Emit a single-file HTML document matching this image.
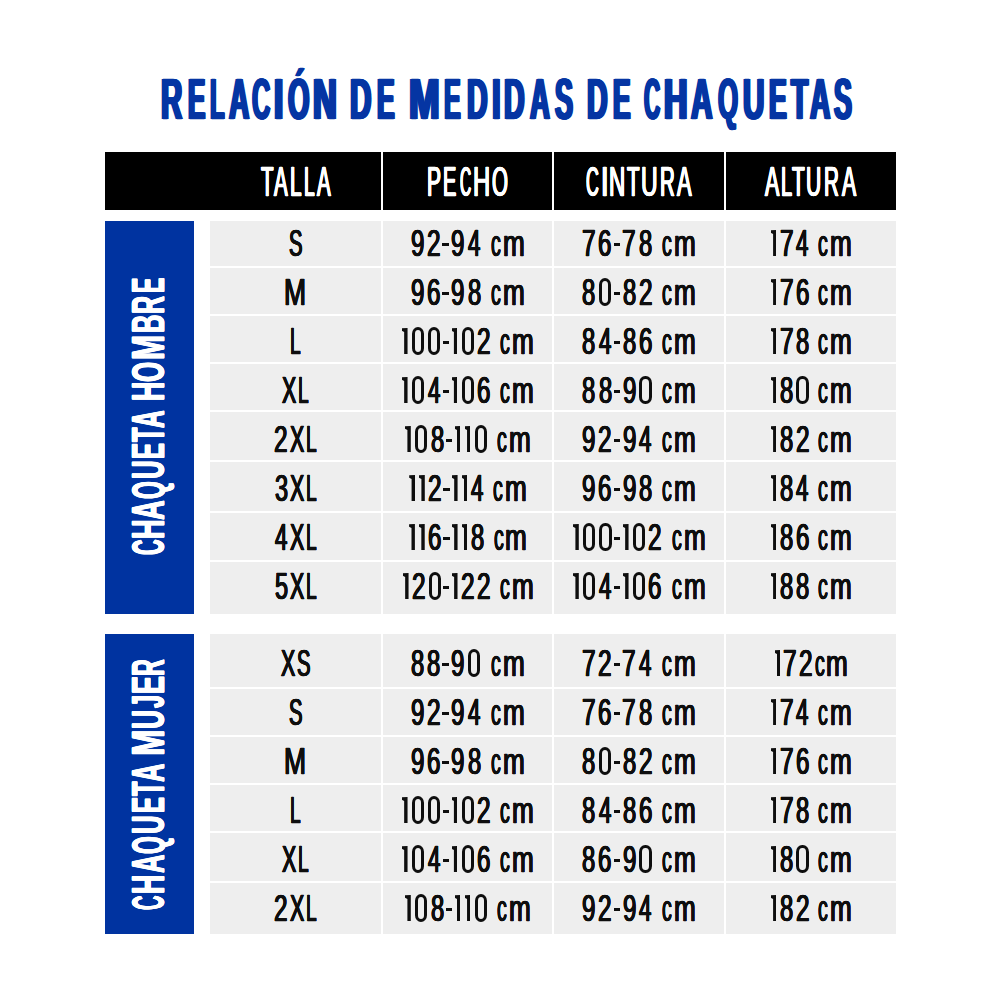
<!DOCTYPE html>
<html><head><meta charset="utf-8"><style>
html,body{margin:0;padding:0;background:#fff;width:1000px;height:1000px;overflow:hidden}
body{position:relative;font-family:"Liberation Sans",sans-serif}
.r{position:absolute}
.t,.g{position:absolute;line-height:1;white-space:nowrap;transform-origin:0 0}
</style></head><body>
<div class="g" style="left:161.44px;top:71.00px;font-size:57.5px;font-weight:700;color:#0535a3;transform:scaleX(0.5119);text-shadow:-2.50px 0 0 #0535a3,2.50px 0 0 #0535a3,-1.25px 0 0 #0535a3,1.25px 0 0 #0535a3;-webkit-text-stroke:0.5px #0535a3">R</div>
<div class="g" style="left:187.51px;top:71.00px;font-size:57.5px;font-weight:700;color:#0535a3;transform:scaleX(0.4502);text-shadow:-2.50px 0 0 #0535a3,2.50px 0 0 #0535a3,-1.25px 0 0 #0535a3,1.25px 0 0 #0535a3;-webkit-text-stroke:0.5px #0535a3">E</div>
<div class="g" style="left:209.55px;top:71.00px;font-size:57.5px;font-weight:700;color:#0535a3;transform:scaleX(0.4142);text-shadow:-2.50px 0 0 #0535a3,2.50px 0 0 #0535a3,-1.25px 0 0 #0535a3,1.25px 0 0 #0535a3;-webkit-text-stroke:0.5px #0535a3">L</div>
<div class="g" style="left:228.64px;top:71.00px;font-size:57.5px;font-weight:700;color:#0535a3;transform:scaleX(0.4878);text-shadow:-2.50px 0 0 #0535a3,2.50px 0 0 #0535a3,-1.25px 0 0 #0535a3,1.25px 0 0 #0535a3;-webkit-text-stroke:0.5px #0535a3">A</div>
<div class="g" style="left:251.67px;top:71.00px;font-size:57.5px;font-weight:700;color:#0535a3;transform:scaleX(0.4409);text-shadow:-2.50px 0 0 #0535a3,2.50px 0 0 #0535a3,-1.25px 0 0 #0535a3,1.25px 0 0 #0535a3;-webkit-text-stroke:0.5px #0535a3">C</div>
<div class="g" style="left:273.86px;top:71.00px;font-size:57.5px;font-weight:700;color:#0535a3;transform:scaleX(0.5804);text-shadow:-2.50px 0 0 #0535a3,2.50px 0 0 #0535a3,-1.25px 0 0 #0535a3,1.25px 0 0 #0535a3;-webkit-text-stroke:0.5px #0535a3">I</div>
<div class="g" style="left:287.69px;top:71.00px;font-size:57.5px;font-weight:700;color:#0535a3;transform:scaleX(0.4796);text-shadow:-2.50px 0 0 #0535a3,2.50px 0 0 #0535a3,-1.25px 0 0 #0535a3,1.25px 0 0 #0535a3;-webkit-text-stroke:0.5px #0535a3">Ó</div>
<div class="g" style="left:313.47px;top:71.00px;font-size:57.5px;font-weight:700;color:#0535a3;transform:scaleX(0.5725);text-shadow:-2.50px 0 0 #0535a3,2.50px 0 0 #0535a3,-1.25px 0 0 #0535a3,1.25px 0 0 #0535a3;-webkit-text-stroke:0.5px #0535a3">N</div>
<div class="g" style="left:350.44px;top:71.00px;font-size:57.5px;font-weight:700;color:#0535a3;transform:scaleX(0.5152);text-shadow:-2.50px 0 0 #0535a3,2.50px 0 0 #0535a3,-1.25px 0 0 #0535a3,1.25px 0 0 #0535a3;-webkit-text-stroke:0.5px #0535a3">D</div>
<div class="g" style="left:376.70px;top:71.00px;font-size:57.5px;font-weight:700;color:#0535a3;transform:scaleX(0.4582);text-shadow:-2.50px 0 0 #0535a3,2.50px 0 0 #0535a3,-1.25px 0 0 #0535a3,1.25px 0 0 #0535a3;-webkit-text-stroke:0.5px #0535a3">E</div>
<div class="g" style="left:408.80px;top:71.00px;font-size:57.5px;font-weight:700;color:#0535a3;transform:scaleX(0.6389);text-shadow:-2.50px 0 0 #0535a3,2.50px 0 0 #0535a3,-1.25px 0 0 #0535a3,1.25px 0 0 #0535a3;-webkit-text-stroke:0.5px #0535a3">M</div>
<div class="g" style="left:444.22px;top:71.00px;font-size:57.5px;font-weight:700;color:#0535a3;transform:scaleX(0.4370);text-shadow:-2.50px 0 0 #0535a3,2.50px 0 0 #0535a3,-1.25px 0 0 #0535a3,1.25px 0 0 #0535a3;-webkit-text-stroke:0.5px #0535a3">E</div>
<div class="g" style="left:466.66px;top:71.00px;font-size:57.5px;font-weight:700;color:#0535a3;transform:scaleX(0.4955);text-shadow:-2.50px 0 0 #0535a3,2.50px 0 0 #0535a3,-1.25px 0 0 #0535a3,1.25px 0 0 #0535a3;-webkit-text-stroke:0.5px #0535a3">D</div>
<div class="g" style="left:491.60px;top:71.00px;font-size:57.5px;font-weight:700;color:#0535a3;transform:scaleX(0.5442);text-shadow:-2.50px 0 0 #0535a3,2.50px 0 0 #0535a3,-1.25px 0 0 #0535a3,1.25px 0 0 #0535a3;-webkit-text-stroke:0.5px #0535a3">I</div>
<div class="g" style="left:504.46px;top:71.00px;font-size:57.5px;font-weight:700;color:#0535a3;transform:scaleX(0.4955);text-shadow:-2.50px 0 0 #0535a3,2.50px 0 0 #0535a3,-1.25px 0 0 #0535a3,1.25px 0 0 #0535a3;-webkit-text-stroke:0.5px #0535a3">D</div>
<div class="g" style="left:529.63px;top:71.00px;font-size:57.5px;font-weight:700;color:#0535a3;transform:scaleX(0.4764);text-shadow:-2.50px 0 0 #0535a3,2.50px 0 0 #0535a3,-1.25px 0 0 #0535a3,1.25px 0 0 #0535a3;-webkit-text-stroke:0.5px #0535a3">A</div>
<div class="g" style="left:555.01px;top:71.00px;font-size:57.5px;font-weight:700;color:#0535a3;transform:scaleX(0.4681);text-shadow:-2.50px 0 0 #0535a3,2.50px 0 0 #0535a3,-1.25px 0 0 #0535a3,1.25px 0 0 #0535a3;-webkit-text-stroke:0.5px #0535a3">S</div>
<div class="g" style="left:586.96px;top:71.00px;font-size:57.5px;font-weight:700;color:#0535a3;transform:scaleX(0.4955);text-shadow:-2.50px 0 0 #0535a3,2.50px 0 0 #0535a3,-1.25px 0 0 #0535a3,1.25px 0 0 #0535a3;-webkit-text-stroke:0.5px #0535a3">D</div>
<div class="g" style="left:612.50px;top:71.00px;font-size:57.5px;font-weight:700;color:#0535a3;transform:scaleX(0.4555);text-shadow:-2.50px 0 0 #0535a3,2.50px 0 0 #0535a3,-1.25px 0 0 #0535a3,1.25px 0 0 #0535a3;-webkit-text-stroke:0.5px #0535a3">E</div>
<div class="g" style="left:644.15px;top:71.00px;font-size:57.5px;font-weight:700;color:#0535a3;transform:scaleX(0.3898);text-shadow:-2.50px 0 0 #0535a3,2.50px 0 0 #0535a3,-1.25px 0 0 #0535a3,1.25px 0 0 #0535a3;-webkit-text-stroke:0.5px #0535a3">C</div>
<div class="g" style="left:664.38px;top:71.00px;font-size:57.5px;font-weight:700;color:#0535a3;transform:scaleX(0.5648);text-shadow:-2.50px 0 0 #0535a3,2.50px 0 0 #0535a3,-1.25px 0 0 #0535a3,1.25px 0 0 #0535a3;-webkit-text-stroke:0.5px #0535a3">H</div>
<div class="g" style="left:690.88px;top:71.00px;font-size:57.5px;font-weight:700;color:#0535a3;transform:scaleX(0.5173);text-shadow:-2.50px 0 0 #0535a3,2.50px 0 0 #0535a3,-1.25px 0 0 #0535a3,1.25px 0 0 #0535a3;-webkit-text-stroke:0.5px #0535a3">A</div>
<div class="g" style="left:717.98px;top:71.00px;font-size:57.5px;font-weight:700;color:#0535a3;transform:scaleX(0.4488);text-shadow:-2.50px 0 0 #0535a3,2.50px 0 0 #0535a3,-1.25px 0 0 #0535a3,1.25px 0 0 #0535a3;-webkit-text-stroke:0.5px #0535a3">Q</div>
<div class="g" style="left:743.24px;top:71.00px;font-size:57.5px;font-weight:700;color:#0535a3;transform:scaleX(0.5142);text-shadow:-2.50px 0 0 #0535a3,2.50px 0 0 #0535a3,-1.25px 0 0 #0535a3,1.25px 0 0 #0535a3;-webkit-text-stroke:0.5px #0535a3">U</div>
<div class="g" style="left:769.09px;top:71.00px;font-size:57.5px;font-weight:700;color:#0535a3;transform:scaleX(0.4608);text-shadow:-2.50px 0 0 #0535a3,2.50px 0 0 #0535a3,-1.25px 0 0 #0535a3,1.25px 0 0 #0535a3;-webkit-text-stroke:0.5px #0535a3">E</div>
<div class="g" style="left:791.03px;top:71.00px;font-size:57.5px;font-weight:700;color:#0535a3;transform:scaleX(0.4878);text-shadow:-2.50px 0 0 #0535a3,2.50px 0 0 #0535a3,-1.25px 0 0 #0535a3,1.25px 0 0 #0535a3;-webkit-text-stroke:0.5px #0535a3">T</div>
<div class="g" style="left:810.45px;top:71.00px;font-size:57.5px;font-weight:700;color:#0535a3;transform:scaleX(0.4901);text-shadow:-2.50px 0 0 #0535a3,2.50px 0 0 #0535a3,-1.25px 0 0 #0535a3,1.25px 0 0 #0535a3;-webkit-text-stroke:0.5px #0535a3">A</div>
<div class="g" style="left:834.31px;top:71.00px;font-size:57.5px;font-weight:700;color:#0535a3;transform:scaleX(0.4656);text-shadow:-2.50px 0 0 #0535a3,2.50px 0 0 #0535a3,-1.25px 0 0 #0535a3,1.25px 0 0 #0535a3;-webkit-text-stroke:0.5px #0535a3">S</div>
<div class="r" style="left:105.00px;top:152.00px;width:276.00px;height:57.50px;background:#000"></div>
<div class="r" style="left:383.00px;top:152.00px;width:169.00px;height:57.50px;background:#000"></div>
<div class="r" style="left:554.00px;top:152.00px;width:169.50px;height:57.50px;background:#000"></div>
<div class="r" style="left:725.50px;top:152.00px;width:170.50px;height:57.50px;background:#000"></div>
<div class="g" style="left:261.15px;top:161.00px;font-size:42.3px;font-weight:400;color:#fff;transform:scaleX(0.4845);text-shadow:-1.10px 0 0 #fff,1.10px 0 0 #fff,-0.55px 0 0 #fff,0.55px 0 0 #fff;-webkit-text-stroke:0.3px #fff">T</div>
<div class="g" style="left:274.37px;top:161.00px;font-size:42.3px;font-weight:400;color:#fff;transform:scaleX(0.4845);text-shadow:-1.10px 0 0 #fff,1.10px 0 0 #fff,-0.55px 0 0 #fff,0.55px 0 0 #fff;-webkit-text-stroke:0.3px #fff">A</div>
<div class="g" style="left:289.91px;top:161.00px;font-size:42.3px;font-weight:400;color:#fff;transform:scaleX(0.4917);text-shadow:-1.10px 0 0 #fff,1.10px 0 0 #fff,-0.55px 0 0 #fff,0.55px 0 0 #fff;-webkit-text-stroke:0.3px #fff">L</div>
<div class="g" style="left:303.59px;top:161.00px;font-size:42.3px;font-weight:400;color:#fff;transform:scaleX(0.4539);text-shadow:-1.10px 0 0 #fff,1.10px 0 0 #fff,-0.55px 0 0 #fff,0.55px 0 0 #fff;-webkit-text-stroke:0.3px #fff">L</div>
<div class="g" style="left:316.77px;top:161.00px;font-size:42.3px;font-weight:400;color:#fff;transform:scaleX(0.4845);text-shadow:-1.10px 0 0 #fff,1.10px 0 0 #fff,-0.55px 0 0 #fff,0.55px 0 0 #fff;-webkit-text-stroke:0.3px #fff">A</div>
<div class="g" style="left:426.60px;top:161.00px;font-size:42.3px;font-weight:400;color:#fff;transform:scaleX(0.4957);text-shadow:-1.10px 0 0 #fff,1.10px 0 0 #fff,-0.55px 0 0 #fff,0.55px 0 0 #fff;-webkit-text-stroke:0.3px #fff">P</div>
<div class="g" style="left:443.15px;top:161.00px;font-size:42.3px;font-weight:400;color:#fff;transform:scaleX(0.4720);text-shadow:-1.10px 0 0 #fff,1.10px 0 0 #fff,-0.55px 0 0 #fff,0.55px 0 0 #fff;-webkit-text-stroke:0.3px #fff">E</div>
<div class="g" style="left:459.97px;top:161.00px;font-size:42.3px;font-weight:400;color:#fff;transform:scaleX(0.3653);text-shadow:-1.10px 0 0 #fff,1.10px 0 0 #fff,-0.55px 0 0 #fff,0.55px 0 0 #fff;-webkit-text-stroke:0.3px #fff">C</div>
<div class="g" style="left:473.05px;top:161.00px;font-size:42.3px;font-weight:400;color:#fff;transform:scaleX(0.5626);text-shadow:-1.10px 0 0 #fff,1.10px 0 0 #fff,-0.55px 0 0 #fff,0.55px 0 0 #fff;-webkit-text-stroke:0.3px #fff">H</div>
<div class="g" style="left:492.03px;top:161.00px;font-size:42.3px;font-weight:400;color:#fff;transform:scaleX(0.4845);text-shadow:-1.10px 0 0 #fff,1.10px 0 0 #fff,-0.55px 0 0 #fff,0.55px 0 0 #fff;-webkit-text-stroke:0.3px #fff">O</div>
<div class="g" style="left:586.32px;top:161.00px;font-size:42.3px;font-weight:400;color:#fff;transform:scaleX(0.4200);text-shadow:-1.10px 0 0 #fff,1.10px 0 0 #fff,-0.55px 0 0 #fff,0.55px 0 0 #fff;-webkit-text-stroke:0.3px #fff">C</div>
<div class="g" style="left:600.51px;top:161.00px;font-size:42.3px;font-weight:400;color:#fff;transform:scaleX(0.6362);text-shadow:-1.10px 0 0 #fff,1.10px 0 0 #fff,-0.55px 0 0 #fff,0.55px 0 0 #fff;-webkit-text-stroke:0.3px #fff">I</div>
<div class="g" style="left:608.82px;top:161.00px;font-size:42.3px;font-weight:400;color:#fff;transform:scaleX(0.5320);text-shadow:-1.10px 0 0 #fff,1.10px 0 0 #fff,-0.55px 0 0 #fff,0.55px 0 0 #fff;-webkit-text-stroke:0.3px #fff">N</div>
<div class="g" style="left:627.15px;top:161.00px;font-size:42.3px;font-weight:400;color:#fff;transform:scaleX(0.4845);text-shadow:-1.10px 0 0 #fff,1.10px 0 0 #fff,-0.55px 0 0 #fff,0.55px 0 0 #fff;-webkit-text-stroke:0.3px #fff">T</div>
<div class="g" style="left:641.31px;top:161.00px;font-size:42.3px;font-weight:400;color:#fff;transform:scaleX(0.5430);text-shadow:-1.10px 0 0 #fff,1.10px 0 0 #fff,-0.55px 0 0 #fff,0.55px 0 0 #fff;-webkit-text-stroke:0.3px #fff">U</div>
<div class="g" style="left:659.72px;top:161.00px;font-size:42.3px;font-weight:400;color:#fff;transform:scaleX(0.4852);text-shadow:-1.10px 0 0 #fff,1.10px 0 0 #fff,-0.55px 0 0 #fff,0.55px 0 0 #fff;-webkit-text-stroke:0.3px #fff">R</div>
<div class="g" style="left:676.80px;top:161.00px;font-size:42.3px;font-weight:400;color:#fff;transform:scaleX(0.5172);text-shadow:-1.10px 0 0 #fff,1.10px 0 0 #fff,-0.55px 0 0 #fff,0.55px 0 0 #fff;-webkit-text-stroke:0.3px #fff">A</div>
<div class="g" style="left:764.59px;top:161.00px;font-size:42.3px;font-weight:400;color:#fff;transform:scaleX(0.5074);text-shadow:-1.10px 0 0 #fff,1.10px 0 0 #fff,-0.55px 0 0 #fff,0.55px 0 0 #fff;-webkit-text-stroke:0.3px #fff">A</div>
<div class="g" style="left:781.45px;top:161.00px;font-size:42.3px;font-weight:400;color:#fff;transform:scaleX(0.4728);text-shadow:-1.10px 0 0 #fff,1.10px 0 0 #fff,-0.55px 0 0 #fff,0.55px 0 0 #fff;-webkit-text-stroke:0.3px #fff">L</div>
<div class="g" style="left:791.65px;top:161.00px;font-size:42.3px;font-weight:400;color:#fff;transform:scaleX(0.4921);text-shadow:-1.10px 0 0 #fff,1.10px 0 0 #fff,-0.55px 0 0 #fff,0.55px 0 0 #fff;-webkit-text-stroke:0.3px #fff">T</div>
<div class="g" style="left:806.30px;top:161.00px;font-size:42.3px;font-weight:400;color:#fff;transform:scaleX(0.4977);text-shadow:-1.10px 0 0 #fff,1.10px 0 0 #fff,-0.55px 0 0 #fff,0.55px 0 0 #fff;-webkit-text-stroke:0.3px #fff">U</div>
<div class="g" style="left:823.91px;top:161.00px;font-size:42.3px;font-weight:400;color:#fff;transform:scaleX(0.4889);text-shadow:-1.10px 0 0 #fff,1.10px 0 0 #fff,-0.55px 0 0 #fff,0.55px 0 0 #fff;-webkit-text-stroke:0.3px #fff">R</div>
<div class="g" style="left:841.58px;top:161.00px;font-size:42.3px;font-weight:400;color:#fff;transform:scaleX(0.5008);text-shadow:-1.10px 0 0 #fff,1.10px 0 0 #fff,-0.55px 0 0 #fff,0.55px 0 0 #fff;-webkit-text-stroke:0.3px #fff">A</div>
<div class="r" style="left:105.00px;top:221.00px;width:89.00px;height:392.60px;background:#0033a0"></div>
<div class="r" style="left:105.00px;top:634.00px;width:89.00px;height:300.40px;background:#0033a0"></div>
<div class="r" style="left:210.00px;top:221.00px;width:171.00px;height:45.00px;background:#eeeeee"></div>
<div class="r" style="left:383.00px;top:221.00px;width:169.00px;height:45.00px;background:#eeeeee"></div>
<div class="r" style="left:554.00px;top:221.00px;width:169.50px;height:45.00px;background:#eeeeee"></div>
<div class="r" style="left:725.50px;top:221.00px;width:170.50px;height:45.00px;background:#eeeeee"></div>
<div class="r" style="left:210.00px;top:268.00px;width:171.00px;height:46.00px;background:#eeeeee"></div>
<div class="r" style="left:383.00px;top:268.00px;width:169.00px;height:46.00px;background:#eeeeee"></div>
<div class="r" style="left:554.00px;top:268.00px;width:169.50px;height:46.00px;background:#eeeeee"></div>
<div class="r" style="left:725.50px;top:268.00px;width:170.50px;height:46.00px;background:#eeeeee"></div>
<div class="r" style="left:210.00px;top:316.00px;width:171.00px;height:46.00px;background:#eeeeee"></div>
<div class="r" style="left:383.00px;top:316.00px;width:169.00px;height:46.00px;background:#eeeeee"></div>
<div class="r" style="left:554.00px;top:316.00px;width:169.50px;height:46.00px;background:#eeeeee"></div>
<div class="r" style="left:725.50px;top:316.00px;width:170.50px;height:46.00px;background:#eeeeee"></div>
<div class="r" style="left:210.00px;top:364.00px;width:171.00px;height:46.00px;background:#eeeeee"></div>
<div class="r" style="left:383.00px;top:364.00px;width:169.00px;height:46.00px;background:#eeeeee"></div>
<div class="r" style="left:554.00px;top:364.00px;width:169.50px;height:46.00px;background:#eeeeee"></div>
<div class="r" style="left:725.50px;top:364.00px;width:170.50px;height:46.00px;background:#eeeeee"></div>
<div class="r" style="left:210.00px;top:412.00px;width:171.00px;height:48.00px;background:#eeeeee"></div>
<div class="r" style="left:383.00px;top:412.00px;width:169.00px;height:48.00px;background:#eeeeee"></div>
<div class="r" style="left:554.00px;top:412.00px;width:169.50px;height:48.00px;background:#eeeeee"></div>
<div class="r" style="left:725.50px;top:412.00px;width:170.50px;height:48.00px;background:#eeeeee"></div>
<div class="r" style="left:210.00px;top:462.00px;width:171.00px;height:49.00px;background:#eeeeee"></div>
<div class="r" style="left:383.00px;top:462.00px;width:169.00px;height:49.00px;background:#eeeeee"></div>
<div class="r" style="left:554.00px;top:462.00px;width:169.50px;height:49.00px;background:#eeeeee"></div>
<div class="r" style="left:725.50px;top:462.00px;width:170.50px;height:49.00px;background:#eeeeee"></div>
<div class="r" style="left:210.00px;top:513.00px;width:171.00px;height:47.00px;background:#eeeeee"></div>
<div class="r" style="left:383.00px;top:513.00px;width:169.00px;height:47.00px;background:#eeeeee"></div>
<div class="r" style="left:554.00px;top:513.00px;width:169.50px;height:47.00px;background:#eeeeee"></div>
<div class="r" style="left:725.50px;top:513.00px;width:170.50px;height:47.00px;background:#eeeeee"></div>
<div class="r" style="left:210.00px;top:562.00px;width:171.00px;height:51.60px;background:#eeeeee"></div>
<div class="r" style="left:383.00px;top:562.00px;width:169.00px;height:51.60px;background:#eeeeee"></div>
<div class="r" style="left:554.00px;top:562.00px;width:169.50px;height:51.60px;background:#eeeeee"></div>
<div class="r" style="left:725.50px;top:562.00px;width:170.50px;height:51.60px;background:#eeeeee"></div>
<div class="r" style="left:210.00px;top:634.00px;width:171.00px;height:53.00px;background:#eeeeee"></div>
<div class="r" style="left:383.00px;top:634.00px;width:169.00px;height:53.00px;background:#eeeeee"></div>
<div class="r" style="left:554.00px;top:634.00px;width:169.50px;height:53.00px;background:#eeeeee"></div>
<div class="r" style="left:725.50px;top:634.00px;width:170.50px;height:53.00px;background:#eeeeee"></div>
<div class="r" style="left:210.00px;top:689.00px;width:171.00px;height:46.00px;background:#eeeeee"></div>
<div class="r" style="left:383.00px;top:689.00px;width:169.00px;height:46.00px;background:#eeeeee"></div>
<div class="r" style="left:554.00px;top:689.00px;width:169.50px;height:46.00px;background:#eeeeee"></div>
<div class="r" style="left:725.50px;top:689.00px;width:170.50px;height:46.00px;background:#eeeeee"></div>
<div class="r" style="left:210.00px;top:737.00px;width:171.00px;height:46.00px;background:#eeeeee"></div>
<div class="r" style="left:383.00px;top:737.00px;width:169.00px;height:46.00px;background:#eeeeee"></div>
<div class="r" style="left:554.00px;top:737.00px;width:169.50px;height:46.00px;background:#eeeeee"></div>
<div class="r" style="left:725.50px;top:737.00px;width:170.50px;height:46.00px;background:#eeeeee"></div>
<div class="r" style="left:210.00px;top:785.00px;width:171.00px;height:46.00px;background:#eeeeee"></div>
<div class="r" style="left:383.00px;top:785.00px;width:169.00px;height:46.00px;background:#eeeeee"></div>
<div class="r" style="left:554.00px;top:785.00px;width:169.50px;height:46.00px;background:#eeeeee"></div>
<div class="r" style="left:725.50px;top:785.00px;width:170.50px;height:46.00px;background:#eeeeee"></div>
<div class="r" style="left:210.00px;top:833.00px;width:171.00px;height:48.00px;background:#eeeeee"></div>
<div class="r" style="left:383.00px;top:833.00px;width:169.00px;height:48.00px;background:#eeeeee"></div>
<div class="r" style="left:554.00px;top:833.00px;width:169.50px;height:48.00px;background:#eeeeee"></div>
<div class="r" style="left:725.50px;top:833.00px;width:170.50px;height:48.00px;background:#eeeeee"></div>
<div class="r" style="left:210.00px;top:883.00px;width:171.00px;height:51.40px;background:#eeeeee"></div>
<div class="r" style="left:383.00px;top:883.00px;width:169.00px;height:51.40px;background:#eeeeee"></div>
<div class="r" style="left:554.00px;top:883.00px;width:169.50px;height:51.40px;background:#eeeeee"></div>
<div class="r" style="left:725.50px;top:883.00px;width:170.50px;height:51.40px;background:#eeeeee"></div>
<div class="g" style="left:288.77px;top:225.00px;font-size:37.7px;color:#0e0e0e;transform:scaleX(0.5358);text-shadow:-0.70px 0 0 #0e0e0e,0.70px 0 0 #0e0e0e,-0.35px 0 0 #0e0e0e,0.35px 0 0 #0e0e0e;-webkit-text-stroke:0.6px #0e0e0e">S</div>
<div class="g" style="left:411.03px;top:225.00px;font-size:37.7px;color:#0e0e0e;transform:scaleX(0.6387);text-shadow:-0.70px 0 0 #0e0e0e,0.70px 0 0 #0e0e0e,-0.35px 0 0 #0e0e0e,0.35px 0 0 #0e0e0e;-webkit-text-stroke:0.6px #0e0e0e">9</div>
<div class="g" style="left:427.18px;top:225.00px;font-size:37.7px;color:#0e0e0e;transform:scaleX(0.6467);text-shadow:-0.70px 0 0 #0e0e0e,0.70px 0 0 #0e0e0e,-0.35px 0 0 #0e0e0e,0.35px 0 0 #0e0e0e;-webkit-text-stroke:0.6px #0e0e0e">2</div>
<div class="r" style="left:442.39px;top:242.65px;width:6.40px;height:3.10px;background:#0e0e0e"></div>
<div class="g" style="left:451.33px;top:225.00px;font-size:37.7px;color:#0e0e0e;transform:scaleX(0.6387);text-shadow:-0.70px 0 0 #0e0e0e,0.70px 0 0 #0e0e0e,-0.35px 0 0 #0e0e0e,0.35px 0 0 #0e0e0e;-webkit-text-stroke:0.6px #0e0e0e">9</div>
<div class="g" style="left:468.15px;top:225.00px;font-size:37.7px;color:#0e0e0e;transform:scaleX(0.5906);text-shadow:-0.70px 0 0 #0e0e0e,0.70px 0 0 #0e0e0e,-0.35px 0 0 #0e0e0e,0.35px 0 0 #0e0e0e;-webkit-text-stroke:0.6px #0e0e0e">4</div>
<div class="g" style="left:490.61px;top:225.00px;font-size:37.7px;color:#0e0e0e;transform:scaleX(0.5204);text-shadow:-0.70px 0 0 #0e0e0e,0.70px 0 0 #0e0e0e,-0.35px 0 0 #0e0e0e,0.35px 0 0 #0e0e0e;-webkit-text-stroke:0.6px #0e0e0e">c</div>
<div class="g" style="left:502.73px;top:225.00px;font-size:37.7px;color:#0e0e0e;transform:scaleX(0.6933);text-shadow:-0.70px 0 0 #0e0e0e,0.70px 0 0 #0e0e0e,-0.35px 0 0 #0e0e0e,0.35px 0 0 #0e0e0e;-webkit-text-stroke:0.6px #0e0e0e">m</div>
<div class="g" style="left:582.16px;top:225.00px;font-size:37.7px;color:#0e0e0e;transform:scaleX(0.6479);text-shadow:-0.70px 0 0 #0e0e0e,0.70px 0 0 #0e0e0e,-0.35px 0 0 #0e0e0e,0.35px 0 0 #0e0e0e;-webkit-text-stroke:0.6px #0e0e0e">7</div>
<div class="g" style="left:598.43px;top:225.00px;font-size:37.7px;color:#0e0e0e;transform:scaleX(0.6393);text-shadow:-0.70px 0 0 #0e0e0e,0.70px 0 0 #0e0e0e,-0.35px 0 0 #0e0e0e,0.35px 0 0 #0e0e0e;-webkit-text-stroke:0.6px #0e0e0e">6</div>
<div class="r" style="left:613.64px;top:242.65px;width:6.40px;height:3.10px;background:#0e0e0e"></div>
<div class="g" style="left:622.47px;top:225.00px;font-size:37.7px;color:#0e0e0e;transform:scaleX(0.6479);text-shadow:-0.70px 0 0 #0e0e0e,0.70px 0 0 #0e0e0e,-0.35px 0 0 #0e0e0e,0.35px 0 0 #0e0e0e;-webkit-text-stroke:0.6px #0e0e0e">7</div>
<div class="g" style="left:638.92px;top:225.00px;font-size:37.7px;color:#0e0e0e;transform:scaleX(0.6298);text-shadow:-0.70px 0 0 #0e0e0e,0.70px 0 0 #0e0e0e,-0.35px 0 0 #0e0e0e,0.35px 0 0 #0e0e0e;-webkit-text-stroke:0.6px #0e0e0e">8</div>
<div class="g" style="left:661.86px;top:225.00px;font-size:37.7px;color:#0e0e0e;transform:scaleX(0.5204);text-shadow:-0.70px 0 0 #0e0e0e,0.70px 0 0 #0e0e0e,-0.35px 0 0 #0e0e0e,0.35px 0 0 #0e0e0e;-webkit-text-stroke:0.6px #0e0e0e">c</div>
<div class="g" style="left:673.98px;top:225.00px;font-size:37.7px;color:#0e0e0e;transform:scaleX(0.6933);text-shadow:-0.70px 0 0 #0e0e0e,0.70px 0 0 #0e0e0e,-0.35px 0 0 #0e0e0e,0.35px 0 0 #0e0e0e;-webkit-text-stroke:0.6px #0e0e0e">m</div>
<div class="r" style="left:770.70px;top:230.00px;width:5.80px;height:26.00px;background:#0e0e0e;clip-path:polygon(0px 0.3px,5.80px 0px,5.80px 26.00px,2.40px 26.00px,2.40px 4.05px,0px 2.85px)"></div>
<div class="g" style="left:779.85px;top:225.00px;font-size:37.7px;color:#0e0e0e;transform:scaleX(0.6479);text-shadow:-0.70px 0 0 #0e0e0e,0.70px 0 0 #0e0e0e,-0.35px 0 0 #0e0e0e,0.35px 0 0 #0e0e0e;-webkit-text-stroke:0.6px #0e0e0e">7</div>
<div class="g" style="left:796.43px;top:225.00px;font-size:37.7px;color:#0e0e0e;transform:scaleX(0.5906);text-shadow:-0.70px 0 0 #0e0e0e,0.70px 0 0 #0e0e0e,-0.35px 0 0 #0e0e0e,0.35px 0 0 #0e0e0e;-webkit-text-stroke:0.6px #0e0e0e">4</div>
<div class="g" style="left:818.45px;top:225.00px;font-size:37.7px;color:#0e0e0e;transform:scaleX(0.5204);text-shadow:-0.70px 0 0 #0e0e0e,0.70px 0 0 #0e0e0e,-0.35px 0 0 #0e0e0e,0.35px 0 0 #0e0e0e;-webkit-text-stroke:0.6px #0e0e0e">c</div>
<div class="g" style="left:830.19px;top:225.00px;font-size:37.7px;color:#0e0e0e;transform:scaleX(0.6933);text-shadow:-0.70px 0 0 #0e0e0e,0.70px 0 0 #0e0e0e,-0.35px 0 0 #0e0e0e,0.35px 0 0 #0e0e0e;-webkit-text-stroke:0.6px #0e0e0e">m</div>
<div class="g" style="left:284.48px;top:274.00px;font-size:37.7px;color:#0e0e0e;transform:scaleX(0.7017);text-shadow:-0.70px 0 0 #0e0e0e,0.70px 0 0 #0e0e0e,-0.35px 0 0 #0e0e0e,0.35px 0 0 #0e0e0e;-webkit-text-stroke:0.6px #0e0e0e">M</div>
<div class="g" style="left:411.03px;top:274.00px;font-size:37.7px;color:#0e0e0e;transform:scaleX(0.6387);text-shadow:-0.70px 0 0 #0e0e0e,0.70px 0 0 #0e0e0e,-0.35px 0 0 #0e0e0e,0.35px 0 0 #0e0e0e;-webkit-text-stroke:0.6px #0e0e0e">9</div>
<div class="g" style="left:427.18px;top:274.00px;font-size:37.7px;color:#0e0e0e;transform:scaleX(0.6393);text-shadow:-0.70px 0 0 #0e0e0e,0.70px 0 0 #0e0e0e,-0.35px 0 0 #0e0e0e,0.35px 0 0 #0e0e0e;-webkit-text-stroke:0.6px #0e0e0e">6</div>
<div class="r" style="left:442.39px;top:291.65px;width:6.40px;height:3.10px;background:#0e0e0e"></div>
<div class="g" style="left:451.33px;top:274.00px;font-size:37.7px;color:#0e0e0e;transform:scaleX(0.6387);text-shadow:-0.70px 0 0 #0e0e0e,0.70px 0 0 #0e0e0e,-0.35px 0 0 #0e0e0e,0.35px 0 0 #0e0e0e;-webkit-text-stroke:0.6px #0e0e0e">9</div>
<div class="g" style="left:467.67px;top:274.00px;font-size:37.7px;color:#0e0e0e;transform:scaleX(0.6298);text-shadow:-0.70px 0 0 #0e0e0e,0.70px 0 0 #0e0e0e,-0.35px 0 0 #0e0e0e,0.35px 0 0 #0e0e0e;-webkit-text-stroke:0.6px #0e0e0e">8</div>
<div class="g" style="left:490.61px;top:274.00px;font-size:37.7px;color:#0e0e0e;transform:scaleX(0.5204);text-shadow:-0.70px 0 0 #0e0e0e,0.70px 0 0 #0e0e0e,-0.35px 0 0 #0e0e0e,0.35px 0 0 #0e0e0e;-webkit-text-stroke:0.6px #0e0e0e">c</div>
<div class="g" style="left:502.73px;top:274.00px;font-size:37.7px;color:#0e0e0e;transform:scaleX(0.6933);text-shadow:-0.70px 0 0 #0e0e0e,0.70px 0 0 #0e0e0e,-0.35px 0 0 #0e0e0e,0.35px 0 0 #0e0e0e;-webkit-text-stroke:0.6px #0e0e0e">m</div>
<div class="g" style="left:582.36px;top:274.00px;font-size:37.7px;color:#0e0e0e;transform:scaleX(0.6298);text-shadow:-0.70px 0 0 #0e0e0e,0.70px 0 0 #0e0e0e,-0.35px 0 0 #0e0e0e,0.35px 0 0 #0e0e0e;-webkit-text-stroke:0.6px #0e0e0e">8</div>
<div class="r" style="left:599.01px;top:278.40px;width:12.40px;height:27.20px;box-sizing:border-box;border:3.3px solid #0e0e0e;border-radius:6.20px / 7.0px"></div>
<div class="r" style="left:613.64px;top:291.65px;width:6.40px;height:3.10px;background:#0e0e0e"></div>
<div class="g" style="left:622.67px;top:274.00px;font-size:37.7px;color:#0e0e0e;transform:scaleX(0.6298);text-shadow:-0.70px 0 0 #0e0e0e,0.70px 0 0 #0e0e0e,-0.35px 0 0 #0e0e0e,0.35px 0 0 #0e0e0e;-webkit-text-stroke:0.6px #0e0e0e">8</div>
<div class="g" style="left:638.74px;top:274.00px;font-size:37.7px;color:#0e0e0e;transform:scaleX(0.6467);text-shadow:-0.70px 0 0 #0e0e0e,0.70px 0 0 #0e0e0e,-0.35px 0 0 #0e0e0e,0.35px 0 0 #0e0e0e;-webkit-text-stroke:0.6px #0e0e0e">2</div>
<div class="g" style="left:661.86px;top:274.00px;font-size:37.7px;color:#0e0e0e;transform:scaleX(0.5204);text-shadow:-0.70px 0 0 #0e0e0e,0.70px 0 0 #0e0e0e,-0.35px 0 0 #0e0e0e,0.35px 0 0 #0e0e0e;-webkit-text-stroke:0.6px #0e0e0e">c</div>
<div class="g" style="left:673.98px;top:274.00px;font-size:37.7px;color:#0e0e0e;transform:scaleX(0.6933);text-shadow:-0.70px 0 0 #0e0e0e,0.70px 0 0 #0e0e0e,-0.35px 0 0 #0e0e0e,0.35px 0 0 #0e0e0e;-webkit-text-stroke:0.6px #0e0e0e">m</div>
<div class="r" style="left:770.70px;top:279.00px;width:5.80px;height:26.00px;background:#0e0e0e;clip-path:polygon(0px 0.3px,5.80px 0px,5.80px 26.00px,2.40px 26.00px,2.40px 4.05px,0px 2.85px)"></div>
<div class="g" style="left:779.85px;top:274.00px;font-size:37.7px;color:#0e0e0e;transform:scaleX(0.6479);text-shadow:-0.70px 0 0 #0e0e0e,0.70px 0 0 #0e0e0e,-0.35px 0 0 #0e0e0e,0.35px 0 0 #0e0e0e;-webkit-text-stroke:0.6px #0e0e0e">7</div>
<div class="g" style="left:795.77px;top:274.00px;font-size:37.7px;color:#0e0e0e;transform:scaleX(0.6393);text-shadow:-0.70px 0 0 #0e0e0e,0.70px 0 0 #0e0e0e,-0.35px 0 0 #0e0e0e,0.35px 0 0 #0e0e0e;-webkit-text-stroke:0.6px #0e0e0e">6</div>
<div class="g" style="left:818.45px;top:274.00px;font-size:37.7px;color:#0e0e0e;transform:scaleX(0.5204);text-shadow:-0.70px 0 0 #0e0e0e,0.70px 0 0 #0e0e0e,-0.35px 0 0 #0e0e0e,0.35px 0 0 #0e0e0e;-webkit-text-stroke:0.6px #0e0e0e">c</div>
<div class="g" style="left:830.19px;top:274.00px;font-size:37.7px;color:#0e0e0e;transform:scaleX(0.6933);text-shadow:-0.70px 0 0 #0e0e0e,0.70px 0 0 #0e0e0e,-0.35px 0 0 #0e0e0e,0.35px 0 0 #0e0e0e;-webkit-text-stroke:0.6px #0e0e0e">m</div>
<div class="g" style="left:289.68px;top:323.00px;font-size:37.7px;color:#0e0e0e;transform:scaleX(0.5101);text-shadow:-0.70px 0 0 #0e0e0e,0.70px 0 0 #0e0e0e,-0.35px 0 0 #0e0e0e,0.35px 0 0 #0e0e0e;-webkit-text-stroke:0.6px #0e0e0e">L</div>
<div class="r" style="left:401.76px;top:328.00px;width:5.80px;height:26.00px;background:#0e0e0e;clip-path:polygon(0px 0.3px,5.80px 0px,5.80px 26.00px,2.40px 26.00px,2.40px 4.05px,0px 2.85px)"></div>
<div class="r" style="left:411.80px;top:327.40px;width:12.40px;height:27.20px;box-sizing:border-box;border:3.3px solid #0e0e0e;border-radius:6.20px / 7.0px"></div>
<div class="r" style="left:428.05px;top:327.40px;width:12.40px;height:27.20px;box-sizing:border-box;border:3.3px solid #0e0e0e;border-radius:6.20px / 7.0px"></div>
<div class="r" style="left:442.68px;top:340.65px;width:6.40px;height:3.10px;background:#0e0e0e"></div>
<div class="r" style="left:451.51px;top:328.00px;width:5.80px;height:26.00px;background:#0e0e0e;clip-path:polygon(0px 0.3px,5.80px 0px,5.80px 26.00px,2.40px 26.00px,2.40px 4.05px,0px 2.85px)"></div>
<div class="r" style="left:461.55px;top:327.40px;width:12.40px;height:27.20px;box-sizing:border-box;border:3.3px solid #0e0e0e;border-radius:6.20px / 7.0px"></div>
<div class="g" style="left:477.22px;top:323.00px;font-size:37.7px;color:#0e0e0e;transform:scaleX(0.6467);text-shadow:-0.70px 0 0 #0e0e0e,0.70px 0 0 #0e0e0e,-0.35px 0 0 #0e0e0e,0.35px 0 0 #0e0e0e;-webkit-text-stroke:0.6px #0e0e0e">2</div>
<div class="g" style="left:500.35px;top:323.00px;font-size:37.7px;color:#0e0e0e;transform:scaleX(0.5204);text-shadow:-0.70px 0 0 #0e0e0e,0.70px 0 0 #0e0e0e,-0.35px 0 0 #0e0e0e,0.35px 0 0 #0e0e0e;-webkit-text-stroke:0.6px #0e0e0e">c</div>
<div class="g" style="left:512.48px;top:323.00px;font-size:37.7px;color:#0e0e0e;transform:scaleX(0.6933);text-shadow:-0.70px 0 0 #0e0e0e,0.70px 0 0 #0e0e0e,-0.35px 0 0 #0e0e0e,0.35px 0 0 #0e0e0e;-webkit-text-stroke:0.6px #0e0e0e">m</div>
<div class="g" style="left:582.36px;top:323.00px;font-size:37.7px;color:#0e0e0e;transform:scaleX(0.6298);text-shadow:-0.70px 0 0 #0e0e0e,0.70px 0 0 #0e0e0e,-0.35px 0 0 #0e0e0e,0.35px 0 0 #0e0e0e;-webkit-text-stroke:0.6px #0e0e0e">8</div>
<div class="g" style="left:599.09px;top:323.00px;font-size:37.7px;color:#0e0e0e;transform:scaleX(0.5906);text-shadow:-0.70px 0 0 #0e0e0e,0.70px 0 0 #0e0e0e,-0.35px 0 0 #0e0e0e,0.35px 0 0 #0e0e0e;-webkit-text-stroke:0.6px #0e0e0e">4</div>
<div class="r" style="left:613.64px;top:340.65px;width:6.40px;height:3.10px;background:#0e0e0e"></div>
<div class="g" style="left:622.67px;top:323.00px;font-size:37.7px;color:#0e0e0e;transform:scaleX(0.6298);text-shadow:-0.70px 0 0 #0e0e0e,0.70px 0 0 #0e0e0e,-0.35px 0 0 #0e0e0e,0.35px 0 0 #0e0e0e;-webkit-text-stroke:0.6px #0e0e0e">8</div>
<div class="g" style="left:638.73px;top:323.00px;font-size:37.7px;color:#0e0e0e;transform:scaleX(0.6393);text-shadow:-0.70px 0 0 #0e0e0e,0.70px 0 0 #0e0e0e,-0.35px 0 0 #0e0e0e,0.35px 0 0 #0e0e0e;-webkit-text-stroke:0.6px #0e0e0e">6</div>
<div class="g" style="left:661.86px;top:323.00px;font-size:37.7px;color:#0e0e0e;transform:scaleX(0.5204);text-shadow:-0.70px 0 0 #0e0e0e,0.70px 0 0 #0e0e0e,-0.35px 0 0 #0e0e0e,0.35px 0 0 #0e0e0e;-webkit-text-stroke:0.6px #0e0e0e">c</div>
<div class="g" style="left:673.98px;top:323.00px;font-size:37.7px;color:#0e0e0e;transform:scaleX(0.6933);text-shadow:-0.70px 0 0 #0e0e0e,0.70px 0 0 #0e0e0e,-0.35px 0 0 #0e0e0e,0.35px 0 0 #0e0e0e;-webkit-text-stroke:0.6px #0e0e0e">m</div>
<div class="r" style="left:770.70px;top:328.00px;width:5.80px;height:26.00px;background:#0e0e0e;clip-path:polygon(0px 0.3px,5.80px 0px,5.80px 26.00px,2.40px 26.00px,2.40px 4.05px,0px 2.85px)"></div>
<div class="g" style="left:779.85px;top:323.00px;font-size:37.7px;color:#0e0e0e;transform:scaleX(0.6479);text-shadow:-0.70px 0 0 #0e0e0e,0.70px 0 0 #0e0e0e,-0.35px 0 0 #0e0e0e,0.35px 0 0 #0e0e0e;-webkit-text-stroke:0.6px #0e0e0e">7</div>
<div class="g" style="left:795.95px;top:323.00px;font-size:37.7px;color:#0e0e0e;transform:scaleX(0.6298);text-shadow:-0.70px 0 0 #0e0e0e,0.70px 0 0 #0e0e0e,-0.35px 0 0 #0e0e0e,0.35px 0 0 #0e0e0e;-webkit-text-stroke:0.6px #0e0e0e">8</div>
<div class="g" style="left:818.45px;top:323.00px;font-size:37.7px;color:#0e0e0e;transform:scaleX(0.5204);text-shadow:-0.70px 0 0 #0e0e0e,0.70px 0 0 #0e0e0e,-0.35px 0 0 #0e0e0e,0.35px 0 0 #0e0e0e;-webkit-text-stroke:0.6px #0e0e0e">c</div>
<div class="g" style="left:830.19px;top:323.00px;font-size:37.7px;color:#0e0e0e;transform:scaleX(0.6933);text-shadow:-0.70px 0 0 #0e0e0e,0.70px 0 0 #0e0e0e,-0.35px 0 0 #0e0e0e,0.35px 0 0 #0e0e0e;-webkit-text-stroke:0.6px #0e0e0e">m</div>
<div class="g" style="left:282.34px;top:372.00px;font-size:37.7px;color:#0e0e0e;transform:scaleX(0.5685);text-shadow:-0.70px 0 0 #0e0e0e,0.70px 0 0 #0e0e0e,-0.35px 0 0 #0e0e0e,0.35px 0 0 #0e0e0e;-webkit-text-stroke:0.6px #0e0e0e">X</div>
<div class="g" style="left:298.18px;top:372.00px;font-size:37.7px;color:#0e0e0e;transform:scaleX(0.5101);text-shadow:-0.70px 0 0 #0e0e0e,0.70px 0 0 #0e0e0e,-0.35px 0 0 #0e0e0e,0.35px 0 0 #0e0e0e;-webkit-text-stroke:0.6px #0e0e0e">L</div>
<div class="r" style="left:401.76px;top:377.00px;width:5.80px;height:26.00px;background:#0e0e0e;clip-path:polygon(0px 0.3px,5.80px 0px,5.80px 26.00px,2.40px 26.00px,2.40px 4.05px,0px 2.85px)"></div>
<div class="r" style="left:411.80px;top:376.40px;width:12.40px;height:27.20px;box-sizing:border-box;border:3.3px solid #0e0e0e;border-radius:6.20px / 7.0px"></div>
<div class="g" style="left:428.13px;top:372.00px;font-size:37.7px;color:#0e0e0e;transform:scaleX(0.5906);text-shadow:-0.70px 0 0 #0e0e0e,0.70px 0 0 #0e0e0e,-0.35px 0 0 #0e0e0e,0.35px 0 0 #0e0e0e;-webkit-text-stroke:0.6px #0e0e0e">4</div>
<div class="r" style="left:442.68px;top:389.65px;width:6.40px;height:3.10px;background:#0e0e0e"></div>
<div class="r" style="left:451.51px;top:377.00px;width:5.80px;height:26.00px;background:#0e0e0e;clip-path:polygon(0px 0.3px,5.80px 0px,5.80px 26.00px,2.40px 26.00px,2.40px 4.05px,0px 2.85px)"></div>
<div class="r" style="left:461.55px;top:376.40px;width:12.40px;height:27.20px;box-sizing:border-box;border:3.3px solid #0e0e0e;border-radius:6.20px / 7.0px"></div>
<div class="g" style="left:477.22px;top:372.00px;font-size:37.7px;color:#0e0e0e;transform:scaleX(0.6393);text-shadow:-0.70px 0 0 #0e0e0e,0.70px 0 0 #0e0e0e,-0.35px 0 0 #0e0e0e,0.35px 0 0 #0e0e0e;-webkit-text-stroke:0.6px #0e0e0e">6</div>
<div class="g" style="left:500.35px;top:372.00px;font-size:37.7px;color:#0e0e0e;transform:scaleX(0.5204);text-shadow:-0.70px 0 0 #0e0e0e,0.70px 0 0 #0e0e0e,-0.35px 0 0 #0e0e0e,0.35px 0 0 #0e0e0e;-webkit-text-stroke:0.6px #0e0e0e">c</div>
<div class="g" style="left:512.48px;top:372.00px;font-size:37.7px;color:#0e0e0e;transform:scaleX(0.6933);text-shadow:-0.70px 0 0 #0e0e0e,0.70px 0 0 #0e0e0e,-0.35px 0 0 #0e0e0e,0.35px 0 0 #0e0e0e;-webkit-text-stroke:0.6px #0e0e0e">m</div>
<div class="g" style="left:582.36px;top:372.00px;font-size:37.7px;color:#0e0e0e;transform:scaleX(0.6298);text-shadow:-0.70px 0 0 #0e0e0e,0.70px 0 0 #0e0e0e,-0.35px 0 0 #0e0e0e,0.35px 0 0 #0e0e0e;-webkit-text-stroke:0.6px #0e0e0e">8</div>
<div class="g" style="left:598.61px;top:372.00px;font-size:37.7px;color:#0e0e0e;transform:scaleX(0.6298);text-shadow:-0.70px 0 0 #0e0e0e,0.70px 0 0 #0e0e0e,-0.35px 0 0 #0e0e0e,0.35px 0 0 #0e0e0e;-webkit-text-stroke:0.6px #0e0e0e">8</div>
<div class="r" style="left:613.64px;top:389.65px;width:6.40px;height:3.10px;background:#0e0e0e"></div>
<div class="g" style="left:622.58px;top:372.00px;font-size:37.7px;color:#0e0e0e;transform:scaleX(0.6387);text-shadow:-0.70px 0 0 #0e0e0e,0.70px 0 0 #0e0e0e,-0.35px 0 0 #0e0e0e,0.35px 0 0 #0e0e0e;-webkit-text-stroke:0.6px #0e0e0e">9</div>
<div class="r" style="left:639.32px;top:376.40px;width:12.40px;height:27.20px;box-sizing:border-box;border:3.3px solid #0e0e0e;border-radius:6.20px / 7.0px"></div>
<div class="g" style="left:661.86px;top:372.00px;font-size:37.7px;color:#0e0e0e;transform:scaleX(0.5204);text-shadow:-0.70px 0 0 #0e0e0e,0.70px 0 0 #0e0e0e,-0.35px 0 0 #0e0e0e,0.35px 0 0 #0e0e0e;-webkit-text-stroke:0.6px #0e0e0e">c</div>
<div class="g" style="left:673.98px;top:372.00px;font-size:37.7px;color:#0e0e0e;transform:scaleX(0.6933);text-shadow:-0.70px 0 0 #0e0e0e,0.70px 0 0 #0e0e0e,-0.35px 0 0 #0e0e0e,0.35px 0 0 #0e0e0e;-webkit-text-stroke:0.6px #0e0e0e">m</div>
<div class="r" style="left:770.70px;top:377.00px;width:5.80px;height:26.00px;background:#0e0e0e;clip-path:polygon(0px 0.3px,5.80px 0px,5.80px 26.00px,2.40px 26.00px,2.40px 4.05px,0px 2.85px)"></div>
<div class="g" style="left:780.05px;top:372.00px;font-size:37.7px;color:#0e0e0e;transform:scaleX(0.6298);text-shadow:-0.70px 0 0 #0e0e0e,0.70px 0 0 #0e0e0e,-0.35px 0 0 #0e0e0e,0.35px 0 0 #0e0e0e;-webkit-text-stroke:0.6px #0e0e0e">8</div>
<div class="r" style="left:796.35px;top:376.40px;width:12.40px;height:27.20px;box-sizing:border-box;border:3.3px solid #0e0e0e;border-radius:6.20px / 7.0px"></div>
<div class="g" style="left:818.45px;top:372.00px;font-size:37.7px;color:#0e0e0e;transform:scaleX(0.5204);text-shadow:-0.70px 0 0 #0e0e0e,0.70px 0 0 #0e0e0e,-0.35px 0 0 #0e0e0e,0.35px 0 0 #0e0e0e;-webkit-text-stroke:0.6px #0e0e0e">c</div>
<div class="g" style="left:830.19px;top:372.00px;font-size:37.7px;color:#0e0e0e;transform:scaleX(0.6933);text-shadow:-0.70px 0 0 #0e0e0e,0.70px 0 0 #0e0e0e,-0.35px 0 0 #0e0e0e,0.35px 0 0 #0e0e0e;-webkit-text-stroke:0.6px #0e0e0e">m</div>
<div class="g" style="left:274.29px;top:421.00px;font-size:37.7px;color:#0e0e0e;transform:scaleX(0.6467);text-shadow:-0.70px 0 0 #0e0e0e,0.70px 0 0 #0e0e0e,-0.35px 0 0 #0e0e0e,0.35px 0 0 #0e0e0e;-webkit-text-stroke:0.6px #0e0e0e">2</div>
<div class="g" style="left:289.78px;top:421.00px;font-size:37.7px;color:#0e0e0e;transform:scaleX(0.5685);text-shadow:-0.70px 0 0 #0e0e0e,0.70px 0 0 #0e0e0e,-0.35px 0 0 #0e0e0e,0.35px 0 0 #0e0e0e;-webkit-text-stroke:0.6px #0e0e0e">X</div>
<div class="g" style="left:305.56px;top:421.00px;font-size:37.7px;color:#0e0e0e;transform:scaleX(0.5101);text-shadow:-0.70px 0 0 #0e0e0e,0.70px 0 0 #0e0e0e,-0.35px 0 0 #0e0e0e,0.35px 0 0 #0e0e0e;-webkit-text-stroke:0.6px #0e0e0e">L</div>
<div class="r" style="left:405.00px;top:426.00px;width:5.80px;height:26.00px;background:#0e0e0e;clip-path:polygon(0px 0.3px,5.80px 0px,5.80px 26.00px,2.40px 26.00px,2.40px 4.05px,0px 2.85px)"></div>
<div class="r" style="left:415.01px;top:425.40px;width:12.40px;height:27.20px;box-sizing:border-box;border:3.3px solid #0e0e0e;border-radius:6.20px / 7.0px"></div>
<div class="g" style="left:430.82px;top:421.00px;font-size:37.7px;color:#0e0e0e;transform:scaleX(0.6298);text-shadow:-0.70px 0 0 #0e0e0e,0.70px 0 0 #0e0e0e,-0.35px 0 0 #0e0e0e,0.35px 0 0 #0e0e0e;-webkit-text-stroke:0.6px #0e0e0e">8</div>
<div class="r" style="left:445.84px;top:438.65px;width:6.40px;height:3.10px;background:#0e0e0e"></div>
<div class="r" style="left:454.64px;top:426.00px;width:5.80px;height:26.00px;background:#0e0e0e;clip-path:polygon(0px 0.3px,5.80px 0px,5.80px 26.00px,2.40px 26.00px,2.40px 4.05px,0px 2.85px)"></div>
<div class="r" style="left:464.65px;top:426.00px;width:5.80px;height:26.00px;background:#0e0e0e;clip-path:polygon(0px 0.3px,5.80px 0px,5.80px 26.00px,2.40px 26.00px,2.40px 4.05px,0px 2.85px)"></div>
<div class="r" style="left:474.66px;top:425.40px;width:12.40px;height:27.20px;box-sizing:border-box;border:3.3px solid #0e0e0e;border-radius:6.20px / 7.0px"></div>
<div class="g" style="left:497.16px;top:421.00px;font-size:37.7px;color:#0e0e0e;transform:scaleX(0.5204);text-shadow:-0.70px 0 0 #0e0e0e,0.70px 0 0 #0e0e0e,-0.35px 0 0 #0e0e0e,0.35px 0 0 #0e0e0e;-webkit-text-stroke:0.6px #0e0e0e">c</div>
<div class="g" style="left:509.25px;top:421.00px;font-size:37.7px;color:#0e0e0e;transform:scaleX(0.6933);text-shadow:-0.70px 0 0 #0e0e0e,0.70px 0 0 #0e0e0e,-0.35px 0 0 #0e0e0e,0.35px 0 0 #0e0e0e;-webkit-text-stroke:0.6px #0e0e0e">m</div>
<div class="g" style="left:582.28px;top:421.00px;font-size:37.7px;color:#0e0e0e;transform:scaleX(0.6387);text-shadow:-0.70px 0 0 #0e0e0e,0.70px 0 0 #0e0e0e,-0.35px 0 0 #0e0e0e,0.35px 0 0 #0e0e0e;-webkit-text-stroke:0.6px #0e0e0e">9</div>
<div class="g" style="left:598.43px;top:421.00px;font-size:37.7px;color:#0e0e0e;transform:scaleX(0.6467);text-shadow:-0.70px 0 0 #0e0e0e,0.70px 0 0 #0e0e0e,-0.35px 0 0 #0e0e0e,0.35px 0 0 #0e0e0e;-webkit-text-stroke:0.6px #0e0e0e">2</div>
<div class="r" style="left:613.64px;top:438.65px;width:6.40px;height:3.10px;background:#0e0e0e"></div>
<div class="g" style="left:622.58px;top:421.00px;font-size:37.7px;color:#0e0e0e;transform:scaleX(0.6387);text-shadow:-0.70px 0 0 #0e0e0e,0.70px 0 0 #0e0e0e,-0.35px 0 0 #0e0e0e,0.35px 0 0 #0e0e0e;-webkit-text-stroke:0.6px #0e0e0e">9</div>
<div class="g" style="left:639.40px;top:421.00px;font-size:37.7px;color:#0e0e0e;transform:scaleX(0.5906);text-shadow:-0.70px 0 0 #0e0e0e,0.70px 0 0 #0e0e0e,-0.35px 0 0 #0e0e0e,0.35px 0 0 #0e0e0e;-webkit-text-stroke:0.6px #0e0e0e">4</div>
<div class="g" style="left:661.86px;top:421.00px;font-size:37.7px;color:#0e0e0e;transform:scaleX(0.5204);text-shadow:-0.70px 0 0 #0e0e0e,0.70px 0 0 #0e0e0e,-0.35px 0 0 #0e0e0e,0.35px 0 0 #0e0e0e;-webkit-text-stroke:0.6px #0e0e0e">c</div>
<div class="g" style="left:673.98px;top:421.00px;font-size:37.7px;color:#0e0e0e;transform:scaleX(0.6933);text-shadow:-0.70px 0 0 #0e0e0e,0.70px 0 0 #0e0e0e,-0.35px 0 0 #0e0e0e,0.35px 0 0 #0e0e0e;-webkit-text-stroke:0.6px #0e0e0e">m</div>
<div class="r" style="left:770.70px;top:426.00px;width:5.80px;height:26.00px;background:#0e0e0e;clip-path:polygon(0px 0.3px,5.80px 0px,5.80px 26.00px,2.40px 26.00px,2.40px 4.05px,0px 2.85px)"></div>
<div class="g" style="left:780.05px;top:421.00px;font-size:37.7px;color:#0e0e0e;transform:scaleX(0.6298);text-shadow:-0.70px 0 0 #0e0e0e,0.70px 0 0 #0e0e0e,-0.35px 0 0 #0e0e0e,0.35px 0 0 #0e0e0e;-webkit-text-stroke:0.6px #0e0e0e">8</div>
<div class="g" style="left:795.77px;top:421.00px;font-size:37.7px;color:#0e0e0e;transform:scaleX(0.6467);text-shadow:-0.70px 0 0 #0e0e0e,0.70px 0 0 #0e0e0e,-0.35px 0 0 #0e0e0e,0.35px 0 0 #0e0e0e;-webkit-text-stroke:0.6px #0e0e0e">2</div>
<div class="g" style="left:818.45px;top:421.00px;font-size:37.7px;color:#0e0e0e;transform:scaleX(0.5204);text-shadow:-0.70px 0 0 #0e0e0e,0.70px 0 0 #0e0e0e,-0.35px 0 0 #0e0e0e,0.35px 0 0 #0e0e0e;-webkit-text-stroke:0.6px #0e0e0e">c</div>
<div class="g" style="left:830.19px;top:421.00px;font-size:37.7px;color:#0e0e0e;transform:scaleX(0.6933);text-shadow:-0.70px 0 0 #0e0e0e,0.70px 0 0 #0e0e0e,-0.35px 0 0 #0e0e0e,0.35px 0 0 #0e0e0e;-webkit-text-stroke:0.6px #0e0e0e">m</div>
<div class="g" style="left:274.60px;top:470.00px;font-size:37.7px;color:#0e0e0e;transform:scaleX(0.6239);text-shadow:-0.70px 0 0 #0e0e0e,0.70px 0 0 #0e0e0e,-0.35px 0 0 #0e0e0e,0.35px 0 0 #0e0e0e;-webkit-text-stroke:0.6px #0e0e0e">3</div>
<div class="g" style="left:289.78px;top:470.00px;font-size:37.7px;color:#0e0e0e;transform:scaleX(0.5685);text-shadow:-0.70px 0 0 #0e0e0e,0.70px 0 0 #0e0e0e,-0.35px 0 0 #0e0e0e,0.35px 0 0 #0e0e0e;-webkit-text-stroke:0.6px #0e0e0e">X</div>
<div class="g" style="left:305.56px;top:470.00px;font-size:37.7px;color:#0e0e0e;transform:scaleX(0.5101);text-shadow:-0.70px 0 0 #0e0e0e,0.70px 0 0 #0e0e0e,-0.35px 0 0 #0e0e0e,0.35px 0 0 #0e0e0e;-webkit-text-stroke:0.6px #0e0e0e">L</div>
<div class="r" style="left:409.20px;top:475.00px;width:5.80px;height:26.00px;background:#0e0e0e;clip-path:polygon(0px 0.3px,5.80px 0px,5.80px 26.00px,2.40px 26.00px,2.40px 4.05px,0px 2.85px)"></div>
<div class="r" style="left:419.01px;top:475.00px;width:5.80px;height:26.00px;background:#0e0e0e;clip-path:polygon(0px 0.3px,5.80px 0px,5.80px 26.00px,2.40px 26.00px,2.40px 4.05px,0px 2.85px)"></div>
<div class="g" style="left:428.18px;top:470.00px;font-size:37.7px;color:#0e0e0e;transform:scaleX(0.6467);text-shadow:-0.70px 0 0 #0e0e0e,0.70px 0 0 #0e0e0e,-0.35px 0 0 #0e0e0e,0.35px 0 0 #0e0e0e;-webkit-text-stroke:0.6px #0e0e0e">2</div>
<div class="r" style="left:443.15px;top:487.65px;width:6.40px;height:3.10px;background:#0e0e0e"></div>
<div class="r" style="left:451.79px;top:475.00px;width:5.80px;height:26.00px;background:#0e0e0e;clip-path:polygon(0px 0.3px,5.80px 0px,5.80px 26.00px,2.40px 26.00px,2.40px 4.05px,0px 2.85px)"></div>
<div class="r" style="left:461.61px;top:475.00px;width:5.80px;height:26.00px;background:#0e0e0e;clip-path:polygon(0px 0.3px,5.80px 0px,5.80px 26.00px,2.40px 26.00px,2.40px 4.05px,0px 2.85px)"></div>
<div class="g" style="left:471.44px;top:470.00px;font-size:37.7px;color:#0e0e0e;transform:scaleX(0.5906);text-shadow:-0.70px 0 0 #0e0e0e,0.70px 0 0 #0e0e0e,-0.35px 0 0 #0e0e0e,0.35px 0 0 #0e0e0e;-webkit-text-stroke:0.6px #0e0e0e">4</div>
<div class="g" style="left:493.45px;top:470.00px;font-size:37.7px;color:#0e0e0e;transform:scaleX(0.5204);text-shadow:-0.70px 0 0 #0e0e0e,0.70px 0 0 #0e0e0e,-0.35px 0 0 #0e0e0e,0.35px 0 0 #0e0e0e;-webkit-text-stroke:0.6px #0e0e0e">c</div>
<div class="g" style="left:505.19px;top:470.00px;font-size:37.7px;color:#0e0e0e;transform:scaleX(0.6933);text-shadow:-0.70px 0 0 #0e0e0e,0.70px 0 0 #0e0e0e,-0.35px 0 0 #0e0e0e,0.35px 0 0 #0e0e0e;-webkit-text-stroke:0.6px #0e0e0e">m</div>
<div class="g" style="left:582.28px;top:470.00px;font-size:37.7px;color:#0e0e0e;transform:scaleX(0.6387);text-shadow:-0.70px 0 0 #0e0e0e,0.70px 0 0 #0e0e0e,-0.35px 0 0 #0e0e0e,0.35px 0 0 #0e0e0e;-webkit-text-stroke:0.6px #0e0e0e">9</div>
<div class="g" style="left:598.43px;top:470.00px;font-size:37.7px;color:#0e0e0e;transform:scaleX(0.6393);text-shadow:-0.70px 0 0 #0e0e0e,0.70px 0 0 #0e0e0e,-0.35px 0 0 #0e0e0e,0.35px 0 0 #0e0e0e;-webkit-text-stroke:0.6px #0e0e0e">6</div>
<div class="r" style="left:613.64px;top:487.65px;width:6.40px;height:3.10px;background:#0e0e0e"></div>
<div class="g" style="left:622.58px;top:470.00px;font-size:37.7px;color:#0e0e0e;transform:scaleX(0.6387);text-shadow:-0.70px 0 0 #0e0e0e,0.70px 0 0 #0e0e0e,-0.35px 0 0 #0e0e0e,0.35px 0 0 #0e0e0e;-webkit-text-stroke:0.6px #0e0e0e">9</div>
<div class="g" style="left:638.92px;top:470.00px;font-size:37.7px;color:#0e0e0e;transform:scaleX(0.6298);text-shadow:-0.70px 0 0 #0e0e0e,0.70px 0 0 #0e0e0e,-0.35px 0 0 #0e0e0e,0.35px 0 0 #0e0e0e;-webkit-text-stroke:0.6px #0e0e0e">8</div>
<div class="g" style="left:661.86px;top:470.00px;font-size:37.7px;color:#0e0e0e;transform:scaleX(0.5204);text-shadow:-0.70px 0 0 #0e0e0e,0.70px 0 0 #0e0e0e,-0.35px 0 0 #0e0e0e,0.35px 0 0 #0e0e0e;-webkit-text-stroke:0.6px #0e0e0e">c</div>
<div class="g" style="left:673.98px;top:470.00px;font-size:37.7px;color:#0e0e0e;transform:scaleX(0.6933);text-shadow:-0.70px 0 0 #0e0e0e,0.70px 0 0 #0e0e0e,-0.35px 0 0 #0e0e0e,0.35px 0 0 #0e0e0e;-webkit-text-stroke:0.6px #0e0e0e">m</div>
<div class="r" style="left:770.70px;top:475.00px;width:5.80px;height:26.00px;background:#0e0e0e;clip-path:polygon(0px 0.3px,5.80px 0px,5.80px 26.00px,2.40px 26.00px,2.40px 4.05px,0px 2.85px)"></div>
<div class="g" style="left:780.05px;top:470.00px;font-size:37.7px;color:#0e0e0e;transform:scaleX(0.6298);text-shadow:-0.70px 0 0 #0e0e0e,0.70px 0 0 #0e0e0e,-0.35px 0 0 #0e0e0e,0.35px 0 0 #0e0e0e;-webkit-text-stroke:0.6px #0e0e0e">8</div>
<div class="g" style="left:796.43px;top:470.00px;font-size:37.7px;color:#0e0e0e;transform:scaleX(0.5906);text-shadow:-0.70px 0 0 #0e0e0e,0.70px 0 0 #0e0e0e,-0.35px 0 0 #0e0e0e,0.35px 0 0 #0e0e0e;-webkit-text-stroke:0.6px #0e0e0e">4</div>
<div class="g" style="left:818.45px;top:470.00px;font-size:37.7px;color:#0e0e0e;transform:scaleX(0.5204);text-shadow:-0.70px 0 0 #0e0e0e,0.70px 0 0 #0e0e0e,-0.35px 0 0 #0e0e0e,0.35px 0 0 #0e0e0e;-webkit-text-stroke:0.6px #0e0e0e">c</div>
<div class="g" style="left:830.19px;top:470.00px;font-size:37.7px;color:#0e0e0e;transform:scaleX(0.6933);text-shadow:-0.70px 0 0 #0e0e0e,0.70px 0 0 #0e0e0e,-0.35px 0 0 #0e0e0e,0.35px 0 0 #0e0e0e;-webkit-text-stroke:0.6px #0e0e0e">m</div>
<div class="g" style="left:274.95px;top:519.00px;font-size:37.7px;color:#0e0e0e;transform:scaleX(0.5906);text-shadow:-0.70px 0 0 #0e0e0e,0.70px 0 0 #0e0e0e,-0.35px 0 0 #0e0e0e,0.35px 0 0 #0e0e0e;-webkit-text-stroke:0.6px #0e0e0e">4</div>
<div class="g" style="left:289.78px;top:519.00px;font-size:37.7px;color:#0e0e0e;transform:scaleX(0.5685);text-shadow:-0.70px 0 0 #0e0e0e,0.70px 0 0 #0e0e0e,-0.35px 0 0 #0e0e0e,0.35px 0 0 #0e0e0e;-webkit-text-stroke:0.6px #0e0e0e">X</div>
<div class="g" style="left:305.56px;top:519.00px;font-size:37.7px;color:#0e0e0e;transform:scaleX(0.5101);text-shadow:-0.70px 0 0 #0e0e0e,0.70px 0 0 #0e0e0e,-0.35px 0 0 #0e0e0e,0.35px 0 0 #0e0e0e;-webkit-text-stroke:0.6px #0e0e0e">L</div>
<div class="r" style="left:409.10px;top:524.00px;width:5.80px;height:26.00px;background:#0e0e0e;clip-path:polygon(0px 0.3px,5.80px 0px,5.80px 26.00px,2.40px 26.00px,2.40px 4.05px,0px 2.85px)"></div>
<div class="r" style="left:418.93px;top:524.00px;width:5.80px;height:26.00px;background:#0e0e0e;clip-path:polygon(0px 0.3px,5.80px 0px,5.80px 26.00px,2.40px 26.00px,2.40px 4.05px,0px 2.85px)"></div>
<div class="g" style="left:428.12px;top:519.00px;font-size:37.7px;color:#0e0e0e;transform:scaleX(0.6393);text-shadow:-0.70px 0 0 #0e0e0e,0.70px 0 0 #0e0e0e,-0.35px 0 0 #0e0e0e,0.35px 0 0 #0e0e0e;-webkit-text-stroke:0.6px #0e0e0e">6</div>
<div class="r" style="left:443.11px;top:536.65px;width:6.40px;height:3.10px;background:#0e0e0e"></div>
<div class="r" style="left:451.77px;top:524.00px;width:5.80px;height:26.00px;background:#0e0e0e;clip-path:polygon(0px 0.3px,5.80px 0px,5.80px 26.00px,2.40px 26.00px,2.40px 4.05px,0px 2.85px)"></div>
<div class="r" style="left:461.60px;top:524.00px;width:5.80px;height:26.00px;background:#0e0e0e;clip-path:polygon(0px 0.3px,5.80px 0px,5.80px 26.00px,2.40px 26.00px,2.40px 4.05px,0px 2.85px)"></div>
<div class="g" style="left:470.98px;top:519.00px;font-size:37.7px;color:#0e0e0e;transform:scaleX(0.6298);text-shadow:-0.70px 0 0 #0e0e0e,0.70px 0 0 #0e0e0e,-0.35px 0 0 #0e0e0e,0.35px 0 0 #0e0e0e;-webkit-text-stroke:0.6px #0e0e0e">8</div>
<div class="g" style="left:493.50px;top:519.00px;font-size:37.7px;color:#0e0e0e;transform:scaleX(0.5204);text-shadow:-0.70px 0 0 #0e0e0e,0.70px 0 0 #0e0e0e,-0.35px 0 0 #0e0e0e,0.35px 0 0 #0e0e0e;-webkit-text-stroke:0.6px #0e0e0e">c</div>
<div class="g" style="left:505.27px;top:519.00px;font-size:37.7px;color:#0e0e0e;transform:scaleX(0.6933);text-shadow:-0.70px 0 0 #0e0e0e,0.70px 0 0 #0e0e0e,-0.35px 0 0 #0e0e0e,0.35px 0 0 #0e0e0e;-webkit-text-stroke:0.6px #0e0e0e">m</div>
<div class="r" style="left:573.01px;top:524.00px;width:5.80px;height:26.00px;background:#0e0e0e;clip-path:polygon(0px 0.3px,5.80px 0px,5.80px 26.00px,2.40px 26.00px,2.40px 4.05px,0px 2.85px)"></div>
<div class="r" style="left:583.05px;top:523.40px;width:12.40px;height:27.20px;box-sizing:border-box;border:3.3px solid #0e0e0e;border-radius:6.20px / 7.0px"></div>
<div class="r" style="left:599.30px;top:523.40px;width:12.40px;height:27.20px;box-sizing:border-box;border:3.3px solid #0e0e0e;border-radius:6.20px / 7.0px"></div>
<div class="r" style="left:613.93px;top:536.65px;width:6.40px;height:3.10px;background:#0e0e0e"></div>
<div class="r" style="left:622.76px;top:524.00px;width:5.80px;height:26.00px;background:#0e0e0e;clip-path:polygon(0px 0.3px,5.80px 0px,5.80px 26.00px,2.40px 26.00px,2.40px 4.05px,0px 2.85px)"></div>
<div class="r" style="left:632.80px;top:523.40px;width:12.40px;height:27.20px;box-sizing:border-box;border:3.3px solid #0e0e0e;border-radius:6.20px / 7.0px"></div>
<div class="g" style="left:648.47px;top:519.00px;font-size:37.7px;color:#0e0e0e;transform:scaleX(0.6467);text-shadow:-0.70px 0 0 #0e0e0e,0.70px 0 0 #0e0e0e,-0.35px 0 0 #0e0e0e,0.35px 0 0 #0e0e0e;-webkit-text-stroke:0.6px #0e0e0e">2</div>
<div class="g" style="left:671.60px;top:519.00px;font-size:37.7px;color:#0e0e0e;transform:scaleX(0.5204);text-shadow:-0.70px 0 0 #0e0e0e,0.70px 0 0 #0e0e0e,-0.35px 0 0 #0e0e0e,0.35px 0 0 #0e0e0e;-webkit-text-stroke:0.6px #0e0e0e">c</div>
<div class="g" style="left:683.73px;top:519.00px;font-size:37.7px;color:#0e0e0e;transform:scaleX(0.6933);text-shadow:-0.70px 0 0 #0e0e0e,0.70px 0 0 #0e0e0e,-0.35px 0 0 #0e0e0e,0.35px 0 0 #0e0e0e;-webkit-text-stroke:0.6px #0e0e0e">m</div>
<div class="r" style="left:770.70px;top:524.00px;width:5.80px;height:26.00px;background:#0e0e0e;clip-path:polygon(0px 0.3px,5.80px 0px,5.80px 26.00px,2.40px 26.00px,2.40px 4.05px,0px 2.85px)"></div>
<div class="g" style="left:780.05px;top:519.00px;font-size:37.7px;color:#0e0e0e;transform:scaleX(0.6298);text-shadow:-0.70px 0 0 #0e0e0e,0.70px 0 0 #0e0e0e,-0.35px 0 0 #0e0e0e,0.35px 0 0 #0e0e0e;-webkit-text-stroke:0.6px #0e0e0e">8</div>
<div class="g" style="left:795.77px;top:519.00px;font-size:37.7px;color:#0e0e0e;transform:scaleX(0.6393);text-shadow:-0.70px 0 0 #0e0e0e,0.70px 0 0 #0e0e0e,-0.35px 0 0 #0e0e0e,0.35px 0 0 #0e0e0e;-webkit-text-stroke:0.6px #0e0e0e">6</div>
<div class="g" style="left:818.45px;top:519.00px;font-size:37.7px;color:#0e0e0e;transform:scaleX(0.5204);text-shadow:-0.70px 0 0 #0e0e0e,0.70px 0 0 #0e0e0e,-0.35px 0 0 #0e0e0e,0.35px 0 0 #0e0e0e;-webkit-text-stroke:0.6px #0e0e0e">c</div>
<div class="g" style="left:830.19px;top:519.00px;font-size:37.7px;color:#0e0e0e;transform:scaleX(0.6933);text-shadow:-0.70px 0 0 #0e0e0e,0.70px 0 0 #0e0e0e,-0.35px 0 0 #0e0e0e,0.35px 0 0 #0e0e0e;-webkit-text-stroke:0.6px #0e0e0e">m</div>
<div class="g" style="left:274.55px;top:568.00px;font-size:37.7px;color:#0e0e0e;transform:scaleX(0.6239);text-shadow:-0.70px 0 0 #0e0e0e,0.70px 0 0 #0e0e0e,-0.35px 0 0 #0e0e0e,0.35px 0 0 #0e0e0e;-webkit-text-stroke:0.6px #0e0e0e">5</div>
<div class="g" style="left:289.78px;top:568.00px;font-size:37.7px;color:#0e0e0e;transform:scaleX(0.5685);text-shadow:-0.70px 0 0 #0e0e0e,0.70px 0 0 #0e0e0e,-0.35px 0 0 #0e0e0e,0.35px 0 0 #0e0e0e;-webkit-text-stroke:0.6px #0e0e0e">X</div>
<div class="g" style="left:305.56px;top:568.00px;font-size:37.7px;color:#0e0e0e;transform:scaleX(0.5101);text-shadow:-0.70px 0 0 #0e0e0e,0.70px 0 0 #0e0e0e,-0.35px 0 0 #0e0e0e,0.35px 0 0 #0e0e0e;-webkit-text-stroke:0.6px #0e0e0e">L</div>
<div class="r" style="left:402.76px;top:573.00px;width:5.80px;height:26.00px;background:#0e0e0e;clip-path:polygon(0px 0.3px,5.80px 0px,5.80px 26.00px,2.40px 26.00px,2.40px 4.05px,0px 2.85px)"></div>
<div class="g" style="left:412.01px;top:568.00px;font-size:37.7px;color:#0e0e0e;transform:scaleX(0.6467);text-shadow:-0.70px 0 0 #0e0e0e,0.70px 0 0 #0e0e0e,-0.35px 0 0 #0e0e0e,0.35px 0 0 #0e0e0e;-webkit-text-stroke:0.6px #0e0e0e">2</div>
<div class="r" style="left:428.58px;top:572.40px;width:12.40px;height:27.20px;box-sizing:border-box;border:3.3px solid #0e0e0e;border-radius:6.20px / 7.0px"></div>
<div class="r" style="left:443.03px;top:585.65px;width:6.40px;height:3.10px;background:#0e0e0e"></div>
<div class="r" style="left:451.72px;top:573.00px;width:5.80px;height:26.00px;background:#0e0e0e;clip-path:polygon(0px 0.3px,5.80px 0px,5.80px 26.00px,2.40px 26.00px,2.40px 4.05px,0px 2.85px)"></div>
<div class="g" style="left:460.97px;top:568.00px;font-size:37.7px;color:#0e0e0e;transform:scaleX(0.6467);text-shadow:-0.70px 0 0 #0e0e0e,0.70px 0 0 #0e0e0e,-0.35px 0 0 #0e0e0e,0.35px 0 0 #0e0e0e;-webkit-text-stroke:0.6px #0e0e0e">2</div>
<div class="g" style="left:476.96px;top:568.00px;font-size:37.7px;color:#0e0e0e;transform:scaleX(0.6467);text-shadow:-0.70px 0 0 #0e0e0e,0.70px 0 0 #0e0e0e,-0.35px 0 0 #0e0e0e,0.35px 0 0 #0e0e0e;-webkit-text-stroke:0.6px #0e0e0e">2</div>
<div class="g" style="left:499.75px;top:568.00px;font-size:37.7px;color:#0e0e0e;transform:scaleX(0.5204);text-shadow:-0.70px 0 0 #0e0e0e,0.70px 0 0 #0e0e0e,-0.35px 0 0 #0e0e0e,0.35px 0 0 #0e0e0e;-webkit-text-stroke:0.6px #0e0e0e">c</div>
<div class="g" style="left:511.59px;top:568.00px;font-size:37.7px;color:#0e0e0e;transform:scaleX(0.6933);text-shadow:-0.70px 0 0 #0e0e0e,0.70px 0 0 #0e0e0e,-0.35px 0 0 #0e0e0e,0.35px 0 0 #0e0e0e;-webkit-text-stroke:0.6px #0e0e0e">m</div>
<div class="r" style="left:573.01px;top:573.00px;width:5.80px;height:26.00px;background:#0e0e0e;clip-path:polygon(0px 0.3px,5.80px 0px,5.80px 26.00px,2.40px 26.00px,2.40px 4.05px,0px 2.85px)"></div>
<div class="r" style="left:583.05px;top:572.40px;width:12.40px;height:27.20px;box-sizing:border-box;border:3.3px solid #0e0e0e;border-radius:6.20px / 7.0px"></div>
<div class="g" style="left:599.38px;top:568.00px;font-size:37.7px;color:#0e0e0e;transform:scaleX(0.5906);text-shadow:-0.70px 0 0 #0e0e0e,0.70px 0 0 #0e0e0e,-0.35px 0 0 #0e0e0e,0.35px 0 0 #0e0e0e;-webkit-text-stroke:0.6px #0e0e0e">4</div>
<div class="r" style="left:613.93px;top:585.65px;width:6.40px;height:3.10px;background:#0e0e0e"></div>
<div class="r" style="left:622.76px;top:573.00px;width:5.80px;height:26.00px;background:#0e0e0e;clip-path:polygon(0px 0.3px,5.80px 0px,5.80px 26.00px,2.40px 26.00px,2.40px 4.05px,0px 2.85px)"></div>
<div class="r" style="left:632.80px;top:572.40px;width:12.40px;height:27.20px;box-sizing:border-box;border:3.3px solid #0e0e0e;border-radius:6.20px / 7.0px"></div>
<div class="g" style="left:648.47px;top:568.00px;font-size:37.7px;color:#0e0e0e;transform:scaleX(0.6393);text-shadow:-0.70px 0 0 #0e0e0e,0.70px 0 0 #0e0e0e,-0.35px 0 0 #0e0e0e,0.35px 0 0 #0e0e0e;-webkit-text-stroke:0.6px #0e0e0e">6</div>
<div class="g" style="left:671.60px;top:568.00px;font-size:37.7px;color:#0e0e0e;transform:scaleX(0.5204);text-shadow:-0.70px 0 0 #0e0e0e,0.70px 0 0 #0e0e0e,-0.35px 0 0 #0e0e0e,0.35px 0 0 #0e0e0e;-webkit-text-stroke:0.6px #0e0e0e">c</div>
<div class="g" style="left:683.73px;top:568.00px;font-size:37.7px;color:#0e0e0e;transform:scaleX(0.6933);text-shadow:-0.70px 0 0 #0e0e0e,0.70px 0 0 #0e0e0e,-0.35px 0 0 #0e0e0e,0.35px 0 0 #0e0e0e;-webkit-text-stroke:0.6px #0e0e0e">m</div>
<div class="r" style="left:770.70px;top:573.00px;width:5.80px;height:26.00px;background:#0e0e0e;clip-path:polygon(0px 0.3px,5.80px 0px,5.80px 26.00px,2.40px 26.00px,2.40px 4.05px,0px 2.85px)"></div>
<div class="g" style="left:780.05px;top:568.00px;font-size:37.7px;color:#0e0e0e;transform:scaleX(0.6298);text-shadow:-0.70px 0 0 #0e0e0e,0.70px 0 0 #0e0e0e,-0.35px 0 0 #0e0e0e,0.35px 0 0 #0e0e0e;-webkit-text-stroke:0.6px #0e0e0e">8</div>
<div class="g" style="left:795.95px;top:568.00px;font-size:37.7px;color:#0e0e0e;transform:scaleX(0.6298);text-shadow:-0.70px 0 0 #0e0e0e,0.70px 0 0 #0e0e0e,-0.35px 0 0 #0e0e0e,0.35px 0 0 #0e0e0e;-webkit-text-stroke:0.6px #0e0e0e">8</div>
<div class="g" style="left:818.45px;top:568.00px;font-size:37.7px;color:#0e0e0e;transform:scaleX(0.5204);text-shadow:-0.70px 0 0 #0e0e0e,0.70px 0 0 #0e0e0e,-0.35px 0 0 #0e0e0e,0.35px 0 0 #0e0e0e;-webkit-text-stroke:0.6px #0e0e0e">c</div>
<div class="g" style="left:830.19px;top:568.00px;font-size:37.7px;color:#0e0e0e;transform:scaleX(0.6933);text-shadow:-0.70px 0 0 #0e0e0e,0.70px 0 0 #0e0e0e,-0.35px 0 0 #0e0e0e,0.35px 0 0 #0e0e0e;-webkit-text-stroke:0.6px #0e0e0e">m</div>
<div class="g" style="left:281.34px;top:645.00px;font-size:37.7px;color:#0e0e0e;transform:scaleX(0.5685);text-shadow:-0.70px 0 0 #0e0e0e,0.70px 0 0 #0e0e0e,-0.35px 0 0 #0e0e0e,0.35px 0 0 #0e0e0e;-webkit-text-stroke:0.6px #0e0e0e">X</div>
<div class="g" style="left:296.67px;top:645.00px;font-size:37.7px;color:#0e0e0e;transform:scaleX(0.5358);text-shadow:-0.70px 0 0 #0e0e0e,0.70px 0 0 #0e0e0e,-0.35px 0 0 #0e0e0e,0.35px 0 0 #0e0e0e;-webkit-text-stroke:0.6px #0e0e0e">S</div>
<div class="g" style="left:411.11px;top:645.00px;font-size:37.7px;color:#0e0e0e;transform:scaleX(0.6298);text-shadow:-0.70px 0 0 #0e0e0e,0.70px 0 0 #0e0e0e,-0.35px 0 0 #0e0e0e,0.35px 0 0 #0e0e0e;-webkit-text-stroke:0.6px #0e0e0e">8</div>
<div class="g" style="left:427.36px;top:645.00px;font-size:37.7px;color:#0e0e0e;transform:scaleX(0.6298);text-shadow:-0.70px 0 0 #0e0e0e,0.70px 0 0 #0e0e0e,-0.35px 0 0 #0e0e0e,0.35px 0 0 #0e0e0e;-webkit-text-stroke:0.6px #0e0e0e">8</div>
<div class="r" style="left:442.39px;top:662.65px;width:6.40px;height:3.10px;background:#0e0e0e"></div>
<div class="g" style="left:451.33px;top:645.00px;font-size:37.7px;color:#0e0e0e;transform:scaleX(0.6387);text-shadow:-0.70px 0 0 #0e0e0e,0.70px 0 0 #0e0e0e,-0.35px 0 0 #0e0e0e,0.35px 0 0 #0e0e0e;-webkit-text-stroke:0.6px #0e0e0e">9</div>
<div class="r" style="left:468.07px;top:649.40px;width:12.40px;height:27.20px;box-sizing:border-box;border:3.3px solid #0e0e0e;border-radius:6.20px / 7.0px"></div>
<div class="g" style="left:490.61px;top:645.00px;font-size:37.7px;color:#0e0e0e;transform:scaleX(0.5204);text-shadow:-0.70px 0 0 #0e0e0e,0.70px 0 0 #0e0e0e,-0.35px 0 0 #0e0e0e,0.35px 0 0 #0e0e0e;-webkit-text-stroke:0.6px #0e0e0e">c</div>
<div class="g" style="left:502.73px;top:645.00px;font-size:37.7px;color:#0e0e0e;transform:scaleX(0.6933);text-shadow:-0.70px 0 0 #0e0e0e,0.70px 0 0 #0e0e0e,-0.35px 0 0 #0e0e0e,0.35px 0 0 #0e0e0e;-webkit-text-stroke:0.6px #0e0e0e">m</div>
<div class="g" style="left:582.16px;top:645.00px;font-size:37.7px;color:#0e0e0e;transform:scaleX(0.6479);text-shadow:-0.70px 0 0 #0e0e0e,0.70px 0 0 #0e0e0e,-0.35px 0 0 #0e0e0e,0.35px 0 0 #0e0e0e;-webkit-text-stroke:0.6px #0e0e0e">7</div>
<div class="g" style="left:598.43px;top:645.00px;font-size:37.7px;color:#0e0e0e;transform:scaleX(0.6467);text-shadow:-0.70px 0 0 #0e0e0e,0.70px 0 0 #0e0e0e,-0.35px 0 0 #0e0e0e,0.35px 0 0 #0e0e0e;-webkit-text-stroke:0.6px #0e0e0e">2</div>
<div class="r" style="left:613.64px;top:662.65px;width:6.40px;height:3.10px;background:#0e0e0e"></div>
<div class="g" style="left:622.47px;top:645.00px;font-size:37.7px;color:#0e0e0e;transform:scaleX(0.6479);text-shadow:-0.70px 0 0 #0e0e0e,0.70px 0 0 #0e0e0e,-0.35px 0 0 #0e0e0e,0.35px 0 0 #0e0e0e;-webkit-text-stroke:0.6px #0e0e0e">7</div>
<div class="g" style="left:639.40px;top:645.00px;font-size:37.7px;color:#0e0e0e;transform:scaleX(0.5906);text-shadow:-0.70px 0 0 #0e0e0e,0.70px 0 0 #0e0e0e,-0.35px 0 0 #0e0e0e,0.35px 0 0 #0e0e0e;-webkit-text-stroke:0.6px #0e0e0e">4</div>
<div class="g" style="left:661.86px;top:645.00px;font-size:37.7px;color:#0e0e0e;transform:scaleX(0.5204);text-shadow:-0.70px 0 0 #0e0e0e,0.70px 0 0 #0e0e0e,-0.35px 0 0 #0e0e0e,0.35px 0 0 #0e0e0e;-webkit-text-stroke:0.6px #0e0e0e">c</div>
<div class="g" style="left:673.98px;top:645.00px;font-size:37.7px;color:#0e0e0e;transform:scaleX(0.6933);text-shadow:-0.70px 0 0 #0e0e0e,0.70px 0 0 #0e0e0e,-0.35px 0 0 #0e0e0e,0.35px 0 0 #0e0e0e;-webkit-text-stroke:0.6px #0e0e0e">m</div>
<div class="r" style="left:774.59px;top:650.00px;width:5.80px;height:26.00px;background:#0e0e0e;clip-path:polygon(0px 0.3px,5.80px 0px,5.80px 26.00px,2.40px 26.00px,2.40px 4.05px,0px 2.85px)"></div>
<div class="g" style="left:783.49px;top:645.00px;font-size:37.7px;color:#0e0e0e;transform:scaleX(0.6479);text-shadow:-0.70px 0 0 #0e0e0e,0.70px 0 0 #0e0e0e,-0.35px 0 0 #0e0e0e,0.35px 0 0 #0e0e0e;-webkit-text-stroke:0.6px #0e0e0e">7</div>
<div class="g" style="left:799.11px;top:645.00px;font-size:37.7px;color:#0e0e0e;transform:scaleX(0.6467);text-shadow:-0.70px 0 0 #0e0e0e,0.70px 0 0 #0e0e0e,-0.35px 0 0 #0e0e0e,0.35px 0 0 #0e0e0e;-webkit-text-stroke:0.6px #0e0e0e">2</div>
<div class="g" style="left:815.02px;top:645.00px;font-size:37.7px;color:#0e0e0e;transform:scaleX(0.5204);text-shadow:-0.70px 0 0 #0e0e0e,0.70px 0 0 #0e0e0e,-0.35px 0 0 #0e0e0e,0.35px 0 0 #0e0e0e;-webkit-text-stroke:0.6px #0e0e0e">c</div>
<div class="g" style="left:826.43px;top:645.00px;font-size:37.7px;color:#0e0e0e;transform:scaleX(0.6933);text-shadow:-0.70px 0 0 #0e0e0e,0.70px 0 0 #0e0e0e,-0.35px 0 0 #0e0e0e,0.35px 0 0 #0e0e0e;-webkit-text-stroke:0.6px #0e0e0e">m</div>
<div class="g" style="left:288.77px;top:694.00px;font-size:37.7px;color:#0e0e0e;transform:scaleX(0.5358);text-shadow:-0.70px 0 0 #0e0e0e,0.70px 0 0 #0e0e0e,-0.35px 0 0 #0e0e0e,0.35px 0 0 #0e0e0e;-webkit-text-stroke:0.6px #0e0e0e">S</div>
<div class="g" style="left:411.03px;top:694.00px;font-size:37.7px;color:#0e0e0e;transform:scaleX(0.6387);text-shadow:-0.70px 0 0 #0e0e0e,0.70px 0 0 #0e0e0e,-0.35px 0 0 #0e0e0e,0.35px 0 0 #0e0e0e;-webkit-text-stroke:0.6px #0e0e0e">9</div>
<div class="g" style="left:427.18px;top:694.00px;font-size:37.7px;color:#0e0e0e;transform:scaleX(0.6467);text-shadow:-0.70px 0 0 #0e0e0e,0.70px 0 0 #0e0e0e,-0.35px 0 0 #0e0e0e,0.35px 0 0 #0e0e0e;-webkit-text-stroke:0.6px #0e0e0e">2</div>
<div class="r" style="left:442.39px;top:711.65px;width:6.40px;height:3.10px;background:#0e0e0e"></div>
<div class="g" style="left:451.33px;top:694.00px;font-size:37.7px;color:#0e0e0e;transform:scaleX(0.6387);text-shadow:-0.70px 0 0 #0e0e0e,0.70px 0 0 #0e0e0e,-0.35px 0 0 #0e0e0e,0.35px 0 0 #0e0e0e;-webkit-text-stroke:0.6px #0e0e0e">9</div>
<div class="g" style="left:468.15px;top:694.00px;font-size:37.7px;color:#0e0e0e;transform:scaleX(0.5906);text-shadow:-0.70px 0 0 #0e0e0e,0.70px 0 0 #0e0e0e,-0.35px 0 0 #0e0e0e,0.35px 0 0 #0e0e0e;-webkit-text-stroke:0.6px #0e0e0e">4</div>
<div class="g" style="left:490.61px;top:694.00px;font-size:37.7px;color:#0e0e0e;transform:scaleX(0.5204);text-shadow:-0.70px 0 0 #0e0e0e,0.70px 0 0 #0e0e0e,-0.35px 0 0 #0e0e0e,0.35px 0 0 #0e0e0e;-webkit-text-stroke:0.6px #0e0e0e">c</div>
<div class="g" style="left:502.73px;top:694.00px;font-size:37.7px;color:#0e0e0e;transform:scaleX(0.6933);text-shadow:-0.70px 0 0 #0e0e0e,0.70px 0 0 #0e0e0e,-0.35px 0 0 #0e0e0e,0.35px 0 0 #0e0e0e;-webkit-text-stroke:0.6px #0e0e0e">m</div>
<div class="g" style="left:582.16px;top:694.00px;font-size:37.7px;color:#0e0e0e;transform:scaleX(0.6479);text-shadow:-0.70px 0 0 #0e0e0e,0.70px 0 0 #0e0e0e,-0.35px 0 0 #0e0e0e,0.35px 0 0 #0e0e0e;-webkit-text-stroke:0.6px #0e0e0e">7</div>
<div class="g" style="left:598.43px;top:694.00px;font-size:37.7px;color:#0e0e0e;transform:scaleX(0.6393);text-shadow:-0.70px 0 0 #0e0e0e,0.70px 0 0 #0e0e0e,-0.35px 0 0 #0e0e0e,0.35px 0 0 #0e0e0e;-webkit-text-stroke:0.6px #0e0e0e">6</div>
<div class="r" style="left:613.64px;top:711.65px;width:6.40px;height:3.10px;background:#0e0e0e"></div>
<div class="g" style="left:622.47px;top:694.00px;font-size:37.7px;color:#0e0e0e;transform:scaleX(0.6479);text-shadow:-0.70px 0 0 #0e0e0e,0.70px 0 0 #0e0e0e,-0.35px 0 0 #0e0e0e,0.35px 0 0 #0e0e0e;-webkit-text-stroke:0.6px #0e0e0e">7</div>
<div class="g" style="left:638.92px;top:694.00px;font-size:37.7px;color:#0e0e0e;transform:scaleX(0.6298);text-shadow:-0.70px 0 0 #0e0e0e,0.70px 0 0 #0e0e0e,-0.35px 0 0 #0e0e0e,0.35px 0 0 #0e0e0e;-webkit-text-stroke:0.6px #0e0e0e">8</div>
<div class="g" style="left:661.86px;top:694.00px;font-size:37.7px;color:#0e0e0e;transform:scaleX(0.5204);text-shadow:-0.70px 0 0 #0e0e0e,0.70px 0 0 #0e0e0e,-0.35px 0 0 #0e0e0e,0.35px 0 0 #0e0e0e;-webkit-text-stroke:0.6px #0e0e0e">c</div>
<div class="g" style="left:673.98px;top:694.00px;font-size:37.7px;color:#0e0e0e;transform:scaleX(0.6933);text-shadow:-0.70px 0 0 #0e0e0e,0.70px 0 0 #0e0e0e,-0.35px 0 0 #0e0e0e,0.35px 0 0 #0e0e0e;-webkit-text-stroke:0.6px #0e0e0e">m</div>
<div class="r" style="left:770.70px;top:699.00px;width:5.80px;height:26.00px;background:#0e0e0e;clip-path:polygon(0px 0.3px,5.80px 0px,5.80px 26.00px,2.40px 26.00px,2.40px 4.05px,0px 2.85px)"></div>
<div class="g" style="left:779.85px;top:694.00px;font-size:37.7px;color:#0e0e0e;transform:scaleX(0.6479);text-shadow:-0.70px 0 0 #0e0e0e,0.70px 0 0 #0e0e0e,-0.35px 0 0 #0e0e0e,0.35px 0 0 #0e0e0e;-webkit-text-stroke:0.6px #0e0e0e">7</div>
<div class="g" style="left:796.43px;top:694.00px;font-size:37.7px;color:#0e0e0e;transform:scaleX(0.5906);text-shadow:-0.70px 0 0 #0e0e0e,0.70px 0 0 #0e0e0e,-0.35px 0 0 #0e0e0e,0.35px 0 0 #0e0e0e;-webkit-text-stroke:0.6px #0e0e0e">4</div>
<div class="g" style="left:818.45px;top:694.00px;font-size:37.7px;color:#0e0e0e;transform:scaleX(0.5204);text-shadow:-0.70px 0 0 #0e0e0e,0.70px 0 0 #0e0e0e,-0.35px 0 0 #0e0e0e,0.35px 0 0 #0e0e0e;-webkit-text-stroke:0.6px #0e0e0e">c</div>
<div class="g" style="left:830.19px;top:694.00px;font-size:37.7px;color:#0e0e0e;transform:scaleX(0.6933);text-shadow:-0.70px 0 0 #0e0e0e,0.70px 0 0 #0e0e0e,-0.35px 0 0 #0e0e0e,0.35px 0 0 #0e0e0e;-webkit-text-stroke:0.6px #0e0e0e">m</div>
<div class="g" style="left:284.48px;top:743.00px;font-size:37.7px;color:#0e0e0e;transform:scaleX(0.7017);text-shadow:-0.70px 0 0 #0e0e0e,0.70px 0 0 #0e0e0e,-0.35px 0 0 #0e0e0e,0.35px 0 0 #0e0e0e;-webkit-text-stroke:0.6px #0e0e0e">M</div>
<div class="g" style="left:411.03px;top:743.00px;font-size:37.7px;color:#0e0e0e;transform:scaleX(0.6387);text-shadow:-0.70px 0 0 #0e0e0e,0.70px 0 0 #0e0e0e,-0.35px 0 0 #0e0e0e,0.35px 0 0 #0e0e0e;-webkit-text-stroke:0.6px #0e0e0e">9</div>
<div class="g" style="left:427.18px;top:743.00px;font-size:37.7px;color:#0e0e0e;transform:scaleX(0.6393);text-shadow:-0.70px 0 0 #0e0e0e,0.70px 0 0 #0e0e0e,-0.35px 0 0 #0e0e0e,0.35px 0 0 #0e0e0e;-webkit-text-stroke:0.6px #0e0e0e">6</div>
<div class="r" style="left:442.39px;top:760.65px;width:6.40px;height:3.10px;background:#0e0e0e"></div>
<div class="g" style="left:451.33px;top:743.00px;font-size:37.7px;color:#0e0e0e;transform:scaleX(0.6387);text-shadow:-0.70px 0 0 #0e0e0e,0.70px 0 0 #0e0e0e,-0.35px 0 0 #0e0e0e,0.35px 0 0 #0e0e0e;-webkit-text-stroke:0.6px #0e0e0e">9</div>
<div class="g" style="left:467.67px;top:743.00px;font-size:37.7px;color:#0e0e0e;transform:scaleX(0.6298);text-shadow:-0.70px 0 0 #0e0e0e,0.70px 0 0 #0e0e0e,-0.35px 0 0 #0e0e0e,0.35px 0 0 #0e0e0e;-webkit-text-stroke:0.6px #0e0e0e">8</div>
<div class="g" style="left:490.61px;top:743.00px;font-size:37.7px;color:#0e0e0e;transform:scaleX(0.5204);text-shadow:-0.70px 0 0 #0e0e0e,0.70px 0 0 #0e0e0e,-0.35px 0 0 #0e0e0e,0.35px 0 0 #0e0e0e;-webkit-text-stroke:0.6px #0e0e0e">c</div>
<div class="g" style="left:502.73px;top:743.00px;font-size:37.7px;color:#0e0e0e;transform:scaleX(0.6933);text-shadow:-0.70px 0 0 #0e0e0e,0.70px 0 0 #0e0e0e,-0.35px 0 0 #0e0e0e,0.35px 0 0 #0e0e0e;-webkit-text-stroke:0.6px #0e0e0e">m</div>
<div class="g" style="left:582.36px;top:743.00px;font-size:37.7px;color:#0e0e0e;transform:scaleX(0.6298);text-shadow:-0.70px 0 0 #0e0e0e,0.70px 0 0 #0e0e0e,-0.35px 0 0 #0e0e0e,0.35px 0 0 #0e0e0e;-webkit-text-stroke:0.6px #0e0e0e">8</div>
<div class="r" style="left:599.01px;top:747.40px;width:12.40px;height:27.20px;box-sizing:border-box;border:3.3px solid #0e0e0e;border-radius:6.20px / 7.0px"></div>
<div class="r" style="left:613.64px;top:760.65px;width:6.40px;height:3.10px;background:#0e0e0e"></div>
<div class="g" style="left:622.67px;top:743.00px;font-size:37.7px;color:#0e0e0e;transform:scaleX(0.6298);text-shadow:-0.70px 0 0 #0e0e0e,0.70px 0 0 #0e0e0e,-0.35px 0 0 #0e0e0e,0.35px 0 0 #0e0e0e;-webkit-text-stroke:0.6px #0e0e0e">8</div>
<div class="g" style="left:638.74px;top:743.00px;font-size:37.7px;color:#0e0e0e;transform:scaleX(0.6467);text-shadow:-0.70px 0 0 #0e0e0e,0.70px 0 0 #0e0e0e,-0.35px 0 0 #0e0e0e,0.35px 0 0 #0e0e0e;-webkit-text-stroke:0.6px #0e0e0e">2</div>
<div class="g" style="left:661.86px;top:743.00px;font-size:37.7px;color:#0e0e0e;transform:scaleX(0.5204);text-shadow:-0.70px 0 0 #0e0e0e,0.70px 0 0 #0e0e0e,-0.35px 0 0 #0e0e0e,0.35px 0 0 #0e0e0e;-webkit-text-stroke:0.6px #0e0e0e">c</div>
<div class="g" style="left:673.98px;top:743.00px;font-size:37.7px;color:#0e0e0e;transform:scaleX(0.6933);text-shadow:-0.70px 0 0 #0e0e0e,0.70px 0 0 #0e0e0e,-0.35px 0 0 #0e0e0e,0.35px 0 0 #0e0e0e;-webkit-text-stroke:0.6px #0e0e0e">m</div>
<div class="r" style="left:770.70px;top:748.00px;width:5.80px;height:26.00px;background:#0e0e0e;clip-path:polygon(0px 0.3px,5.80px 0px,5.80px 26.00px,2.40px 26.00px,2.40px 4.05px,0px 2.85px)"></div>
<div class="g" style="left:779.85px;top:743.00px;font-size:37.7px;color:#0e0e0e;transform:scaleX(0.6479);text-shadow:-0.70px 0 0 #0e0e0e,0.70px 0 0 #0e0e0e,-0.35px 0 0 #0e0e0e,0.35px 0 0 #0e0e0e;-webkit-text-stroke:0.6px #0e0e0e">7</div>
<div class="g" style="left:795.77px;top:743.00px;font-size:37.7px;color:#0e0e0e;transform:scaleX(0.6393);text-shadow:-0.70px 0 0 #0e0e0e,0.70px 0 0 #0e0e0e,-0.35px 0 0 #0e0e0e,0.35px 0 0 #0e0e0e;-webkit-text-stroke:0.6px #0e0e0e">6</div>
<div class="g" style="left:818.45px;top:743.00px;font-size:37.7px;color:#0e0e0e;transform:scaleX(0.5204);text-shadow:-0.70px 0 0 #0e0e0e,0.70px 0 0 #0e0e0e,-0.35px 0 0 #0e0e0e,0.35px 0 0 #0e0e0e;-webkit-text-stroke:0.6px #0e0e0e">c</div>
<div class="g" style="left:830.19px;top:743.00px;font-size:37.7px;color:#0e0e0e;transform:scaleX(0.6933);text-shadow:-0.70px 0 0 #0e0e0e,0.70px 0 0 #0e0e0e,-0.35px 0 0 #0e0e0e,0.35px 0 0 #0e0e0e;-webkit-text-stroke:0.6px #0e0e0e">m</div>
<div class="g" style="left:289.68px;top:792.00px;font-size:37.7px;color:#0e0e0e;transform:scaleX(0.5101);text-shadow:-0.70px 0 0 #0e0e0e,0.70px 0 0 #0e0e0e,-0.35px 0 0 #0e0e0e,0.35px 0 0 #0e0e0e;-webkit-text-stroke:0.6px #0e0e0e">L</div>
<div class="r" style="left:401.76px;top:797.00px;width:5.80px;height:26.00px;background:#0e0e0e;clip-path:polygon(0px 0.3px,5.80px 0px,5.80px 26.00px,2.40px 26.00px,2.40px 4.05px,0px 2.85px)"></div>
<div class="r" style="left:411.80px;top:796.40px;width:12.40px;height:27.20px;box-sizing:border-box;border:3.3px solid #0e0e0e;border-radius:6.20px / 7.0px"></div>
<div class="r" style="left:428.05px;top:796.40px;width:12.40px;height:27.20px;box-sizing:border-box;border:3.3px solid #0e0e0e;border-radius:6.20px / 7.0px"></div>
<div class="r" style="left:442.68px;top:809.65px;width:6.40px;height:3.10px;background:#0e0e0e"></div>
<div class="r" style="left:451.51px;top:797.00px;width:5.80px;height:26.00px;background:#0e0e0e;clip-path:polygon(0px 0.3px,5.80px 0px,5.80px 26.00px,2.40px 26.00px,2.40px 4.05px,0px 2.85px)"></div>
<div class="r" style="left:461.55px;top:796.40px;width:12.40px;height:27.20px;box-sizing:border-box;border:3.3px solid #0e0e0e;border-radius:6.20px / 7.0px"></div>
<div class="g" style="left:477.22px;top:792.00px;font-size:37.7px;color:#0e0e0e;transform:scaleX(0.6467);text-shadow:-0.70px 0 0 #0e0e0e,0.70px 0 0 #0e0e0e,-0.35px 0 0 #0e0e0e,0.35px 0 0 #0e0e0e;-webkit-text-stroke:0.6px #0e0e0e">2</div>
<div class="g" style="left:500.35px;top:792.00px;font-size:37.7px;color:#0e0e0e;transform:scaleX(0.5204);text-shadow:-0.70px 0 0 #0e0e0e,0.70px 0 0 #0e0e0e,-0.35px 0 0 #0e0e0e,0.35px 0 0 #0e0e0e;-webkit-text-stroke:0.6px #0e0e0e">c</div>
<div class="g" style="left:512.48px;top:792.00px;font-size:37.7px;color:#0e0e0e;transform:scaleX(0.6933);text-shadow:-0.70px 0 0 #0e0e0e,0.70px 0 0 #0e0e0e,-0.35px 0 0 #0e0e0e,0.35px 0 0 #0e0e0e;-webkit-text-stroke:0.6px #0e0e0e">m</div>
<div class="g" style="left:582.36px;top:792.00px;font-size:37.7px;color:#0e0e0e;transform:scaleX(0.6298);text-shadow:-0.70px 0 0 #0e0e0e,0.70px 0 0 #0e0e0e,-0.35px 0 0 #0e0e0e,0.35px 0 0 #0e0e0e;-webkit-text-stroke:0.6px #0e0e0e">8</div>
<div class="g" style="left:599.09px;top:792.00px;font-size:37.7px;color:#0e0e0e;transform:scaleX(0.5906);text-shadow:-0.70px 0 0 #0e0e0e,0.70px 0 0 #0e0e0e,-0.35px 0 0 #0e0e0e,0.35px 0 0 #0e0e0e;-webkit-text-stroke:0.6px #0e0e0e">4</div>
<div class="r" style="left:613.64px;top:809.65px;width:6.40px;height:3.10px;background:#0e0e0e"></div>
<div class="g" style="left:622.67px;top:792.00px;font-size:37.7px;color:#0e0e0e;transform:scaleX(0.6298);text-shadow:-0.70px 0 0 #0e0e0e,0.70px 0 0 #0e0e0e,-0.35px 0 0 #0e0e0e,0.35px 0 0 #0e0e0e;-webkit-text-stroke:0.6px #0e0e0e">8</div>
<div class="g" style="left:638.73px;top:792.00px;font-size:37.7px;color:#0e0e0e;transform:scaleX(0.6393);text-shadow:-0.70px 0 0 #0e0e0e,0.70px 0 0 #0e0e0e,-0.35px 0 0 #0e0e0e,0.35px 0 0 #0e0e0e;-webkit-text-stroke:0.6px #0e0e0e">6</div>
<div class="g" style="left:661.86px;top:792.00px;font-size:37.7px;color:#0e0e0e;transform:scaleX(0.5204);text-shadow:-0.70px 0 0 #0e0e0e,0.70px 0 0 #0e0e0e,-0.35px 0 0 #0e0e0e,0.35px 0 0 #0e0e0e;-webkit-text-stroke:0.6px #0e0e0e">c</div>
<div class="g" style="left:673.98px;top:792.00px;font-size:37.7px;color:#0e0e0e;transform:scaleX(0.6933);text-shadow:-0.70px 0 0 #0e0e0e,0.70px 0 0 #0e0e0e,-0.35px 0 0 #0e0e0e,0.35px 0 0 #0e0e0e;-webkit-text-stroke:0.6px #0e0e0e">m</div>
<div class="r" style="left:770.70px;top:797.00px;width:5.80px;height:26.00px;background:#0e0e0e;clip-path:polygon(0px 0.3px,5.80px 0px,5.80px 26.00px,2.40px 26.00px,2.40px 4.05px,0px 2.85px)"></div>
<div class="g" style="left:779.85px;top:792.00px;font-size:37.7px;color:#0e0e0e;transform:scaleX(0.6479);text-shadow:-0.70px 0 0 #0e0e0e,0.70px 0 0 #0e0e0e,-0.35px 0 0 #0e0e0e,0.35px 0 0 #0e0e0e;-webkit-text-stroke:0.6px #0e0e0e">7</div>
<div class="g" style="left:795.95px;top:792.00px;font-size:37.7px;color:#0e0e0e;transform:scaleX(0.6298);text-shadow:-0.70px 0 0 #0e0e0e,0.70px 0 0 #0e0e0e,-0.35px 0 0 #0e0e0e,0.35px 0 0 #0e0e0e;-webkit-text-stroke:0.6px #0e0e0e">8</div>
<div class="g" style="left:818.45px;top:792.00px;font-size:37.7px;color:#0e0e0e;transform:scaleX(0.5204);text-shadow:-0.70px 0 0 #0e0e0e,0.70px 0 0 #0e0e0e,-0.35px 0 0 #0e0e0e,0.35px 0 0 #0e0e0e;-webkit-text-stroke:0.6px #0e0e0e">c</div>
<div class="g" style="left:830.19px;top:792.00px;font-size:37.7px;color:#0e0e0e;transform:scaleX(0.6933);text-shadow:-0.70px 0 0 #0e0e0e,0.70px 0 0 #0e0e0e,-0.35px 0 0 #0e0e0e,0.35px 0 0 #0e0e0e;-webkit-text-stroke:0.6px #0e0e0e">m</div>
<div class="g" style="left:282.34px;top:841.00px;font-size:37.7px;color:#0e0e0e;transform:scaleX(0.5685);text-shadow:-0.70px 0 0 #0e0e0e,0.70px 0 0 #0e0e0e,-0.35px 0 0 #0e0e0e,0.35px 0 0 #0e0e0e;-webkit-text-stroke:0.6px #0e0e0e">X</div>
<div class="g" style="left:298.18px;top:841.00px;font-size:37.7px;color:#0e0e0e;transform:scaleX(0.5101);text-shadow:-0.70px 0 0 #0e0e0e,0.70px 0 0 #0e0e0e,-0.35px 0 0 #0e0e0e,0.35px 0 0 #0e0e0e;-webkit-text-stroke:0.6px #0e0e0e">L</div>
<div class="r" style="left:401.76px;top:846.00px;width:5.80px;height:26.00px;background:#0e0e0e;clip-path:polygon(0px 0.3px,5.80px 0px,5.80px 26.00px,2.40px 26.00px,2.40px 4.05px,0px 2.85px)"></div>
<div class="r" style="left:411.80px;top:845.40px;width:12.40px;height:27.20px;box-sizing:border-box;border:3.3px solid #0e0e0e;border-radius:6.20px / 7.0px"></div>
<div class="g" style="left:428.13px;top:841.00px;font-size:37.7px;color:#0e0e0e;transform:scaleX(0.5906);text-shadow:-0.70px 0 0 #0e0e0e,0.70px 0 0 #0e0e0e,-0.35px 0 0 #0e0e0e,0.35px 0 0 #0e0e0e;-webkit-text-stroke:0.6px #0e0e0e">4</div>
<div class="r" style="left:442.68px;top:858.65px;width:6.40px;height:3.10px;background:#0e0e0e"></div>
<div class="r" style="left:451.51px;top:846.00px;width:5.80px;height:26.00px;background:#0e0e0e;clip-path:polygon(0px 0.3px,5.80px 0px,5.80px 26.00px,2.40px 26.00px,2.40px 4.05px,0px 2.85px)"></div>
<div class="r" style="left:461.55px;top:845.40px;width:12.40px;height:27.20px;box-sizing:border-box;border:3.3px solid #0e0e0e;border-radius:6.20px / 7.0px"></div>
<div class="g" style="left:477.22px;top:841.00px;font-size:37.7px;color:#0e0e0e;transform:scaleX(0.6393);text-shadow:-0.70px 0 0 #0e0e0e,0.70px 0 0 #0e0e0e,-0.35px 0 0 #0e0e0e,0.35px 0 0 #0e0e0e;-webkit-text-stroke:0.6px #0e0e0e">6</div>
<div class="g" style="left:500.35px;top:841.00px;font-size:37.7px;color:#0e0e0e;transform:scaleX(0.5204);text-shadow:-0.70px 0 0 #0e0e0e,0.70px 0 0 #0e0e0e,-0.35px 0 0 #0e0e0e,0.35px 0 0 #0e0e0e;-webkit-text-stroke:0.6px #0e0e0e">c</div>
<div class="g" style="left:512.48px;top:841.00px;font-size:37.7px;color:#0e0e0e;transform:scaleX(0.6933);text-shadow:-0.70px 0 0 #0e0e0e,0.70px 0 0 #0e0e0e,-0.35px 0 0 #0e0e0e,0.35px 0 0 #0e0e0e;-webkit-text-stroke:0.6px #0e0e0e">m</div>
<div class="g" style="left:582.36px;top:841.00px;font-size:37.7px;color:#0e0e0e;transform:scaleX(0.6298);text-shadow:-0.70px 0 0 #0e0e0e,0.70px 0 0 #0e0e0e,-0.35px 0 0 #0e0e0e,0.35px 0 0 #0e0e0e;-webkit-text-stroke:0.6px #0e0e0e">8</div>
<div class="g" style="left:598.43px;top:841.00px;font-size:37.7px;color:#0e0e0e;transform:scaleX(0.6393);text-shadow:-0.70px 0 0 #0e0e0e,0.70px 0 0 #0e0e0e,-0.35px 0 0 #0e0e0e,0.35px 0 0 #0e0e0e;-webkit-text-stroke:0.6px #0e0e0e">6</div>
<div class="r" style="left:613.64px;top:858.65px;width:6.40px;height:3.10px;background:#0e0e0e"></div>
<div class="g" style="left:622.58px;top:841.00px;font-size:37.7px;color:#0e0e0e;transform:scaleX(0.6387);text-shadow:-0.70px 0 0 #0e0e0e,0.70px 0 0 #0e0e0e,-0.35px 0 0 #0e0e0e,0.35px 0 0 #0e0e0e;-webkit-text-stroke:0.6px #0e0e0e">9</div>
<div class="r" style="left:639.32px;top:845.40px;width:12.40px;height:27.20px;box-sizing:border-box;border:3.3px solid #0e0e0e;border-radius:6.20px / 7.0px"></div>
<div class="g" style="left:661.86px;top:841.00px;font-size:37.7px;color:#0e0e0e;transform:scaleX(0.5204);text-shadow:-0.70px 0 0 #0e0e0e,0.70px 0 0 #0e0e0e,-0.35px 0 0 #0e0e0e,0.35px 0 0 #0e0e0e;-webkit-text-stroke:0.6px #0e0e0e">c</div>
<div class="g" style="left:673.98px;top:841.00px;font-size:37.7px;color:#0e0e0e;transform:scaleX(0.6933);text-shadow:-0.70px 0 0 #0e0e0e,0.70px 0 0 #0e0e0e,-0.35px 0 0 #0e0e0e,0.35px 0 0 #0e0e0e;-webkit-text-stroke:0.6px #0e0e0e">m</div>
<div class="r" style="left:770.70px;top:846.00px;width:5.80px;height:26.00px;background:#0e0e0e;clip-path:polygon(0px 0.3px,5.80px 0px,5.80px 26.00px,2.40px 26.00px,2.40px 4.05px,0px 2.85px)"></div>
<div class="g" style="left:780.05px;top:841.00px;font-size:37.7px;color:#0e0e0e;transform:scaleX(0.6298);text-shadow:-0.70px 0 0 #0e0e0e,0.70px 0 0 #0e0e0e,-0.35px 0 0 #0e0e0e,0.35px 0 0 #0e0e0e;-webkit-text-stroke:0.6px #0e0e0e">8</div>
<div class="r" style="left:796.35px;top:845.40px;width:12.40px;height:27.20px;box-sizing:border-box;border:3.3px solid #0e0e0e;border-radius:6.20px / 7.0px"></div>
<div class="g" style="left:818.45px;top:841.00px;font-size:37.7px;color:#0e0e0e;transform:scaleX(0.5204);text-shadow:-0.70px 0 0 #0e0e0e,0.70px 0 0 #0e0e0e,-0.35px 0 0 #0e0e0e,0.35px 0 0 #0e0e0e;-webkit-text-stroke:0.6px #0e0e0e">c</div>
<div class="g" style="left:830.19px;top:841.00px;font-size:37.7px;color:#0e0e0e;transform:scaleX(0.6933);text-shadow:-0.70px 0 0 #0e0e0e,0.70px 0 0 #0e0e0e,-0.35px 0 0 #0e0e0e,0.35px 0 0 #0e0e0e;-webkit-text-stroke:0.6px #0e0e0e">m</div>
<div class="g" style="left:274.29px;top:890.00px;font-size:37.7px;color:#0e0e0e;transform:scaleX(0.6467);text-shadow:-0.70px 0 0 #0e0e0e,0.70px 0 0 #0e0e0e,-0.35px 0 0 #0e0e0e,0.35px 0 0 #0e0e0e;-webkit-text-stroke:0.6px #0e0e0e">2</div>
<div class="g" style="left:289.78px;top:890.00px;font-size:37.7px;color:#0e0e0e;transform:scaleX(0.5685);text-shadow:-0.70px 0 0 #0e0e0e,0.70px 0 0 #0e0e0e,-0.35px 0 0 #0e0e0e,0.35px 0 0 #0e0e0e;-webkit-text-stroke:0.6px #0e0e0e">X</div>
<div class="g" style="left:305.56px;top:890.00px;font-size:37.7px;color:#0e0e0e;transform:scaleX(0.5101);text-shadow:-0.70px 0 0 #0e0e0e,0.70px 0 0 #0e0e0e,-0.35px 0 0 #0e0e0e,0.35px 0 0 #0e0e0e;-webkit-text-stroke:0.6px #0e0e0e">L</div>
<div class="r" style="left:405.00px;top:895.00px;width:5.80px;height:26.00px;background:#0e0e0e;clip-path:polygon(0px 0.3px,5.80px 0px,5.80px 26.00px,2.40px 26.00px,2.40px 4.05px,0px 2.85px)"></div>
<div class="r" style="left:415.01px;top:894.40px;width:12.40px;height:27.20px;box-sizing:border-box;border:3.3px solid #0e0e0e;border-radius:6.20px / 7.0px"></div>
<div class="g" style="left:430.82px;top:890.00px;font-size:37.7px;color:#0e0e0e;transform:scaleX(0.6298);text-shadow:-0.70px 0 0 #0e0e0e,0.70px 0 0 #0e0e0e,-0.35px 0 0 #0e0e0e,0.35px 0 0 #0e0e0e;-webkit-text-stroke:0.6px #0e0e0e">8</div>
<div class="r" style="left:445.84px;top:907.65px;width:6.40px;height:3.10px;background:#0e0e0e"></div>
<div class="r" style="left:454.64px;top:895.00px;width:5.80px;height:26.00px;background:#0e0e0e;clip-path:polygon(0px 0.3px,5.80px 0px,5.80px 26.00px,2.40px 26.00px,2.40px 4.05px,0px 2.85px)"></div>
<div class="r" style="left:464.65px;top:895.00px;width:5.80px;height:26.00px;background:#0e0e0e;clip-path:polygon(0px 0.3px,5.80px 0px,5.80px 26.00px,2.40px 26.00px,2.40px 4.05px,0px 2.85px)"></div>
<div class="r" style="left:474.66px;top:894.40px;width:12.40px;height:27.20px;box-sizing:border-box;border:3.3px solid #0e0e0e;border-radius:6.20px / 7.0px"></div>
<div class="g" style="left:497.16px;top:890.00px;font-size:37.7px;color:#0e0e0e;transform:scaleX(0.5204);text-shadow:-0.70px 0 0 #0e0e0e,0.70px 0 0 #0e0e0e,-0.35px 0 0 #0e0e0e,0.35px 0 0 #0e0e0e;-webkit-text-stroke:0.6px #0e0e0e">c</div>
<div class="g" style="left:509.25px;top:890.00px;font-size:37.7px;color:#0e0e0e;transform:scaleX(0.6933);text-shadow:-0.70px 0 0 #0e0e0e,0.70px 0 0 #0e0e0e,-0.35px 0 0 #0e0e0e,0.35px 0 0 #0e0e0e;-webkit-text-stroke:0.6px #0e0e0e">m</div>
<div class="g" style="left:582.28px;top:890.00px;font-size:37.7px;color:#0e0e0e;transform:scaleX(0.6387);text-shadow:-0.70px 0 0 #0e0e0e,0.70px 0 0 #0e0e0e,-0.35px 0 0 #0e0e0e,0.35px 0 0 #0e0e0e;-webkit-text-stroke:0.6px #0e0e0e">9</div>
<div class="g" style="left:598.43px;top:890.00px;font-size:37.7px;color:#0e0e0e;transform:scaleX(0.6467);text-shadow:-0.70px 0 0 #0e0e0e,0.70px 0 0 #0e0e0e,-0.35px 0 0 #0e0e0e,0.35px 0 0 #0e0e0e;-webkit-text-stroke:0.6px #0e0e0e">2</div>
<div class="r" style="left:613.64px;top:907.65px;width:6.40px;height:3.10px;background:#0e0e0e"></div>
<div class="g" style="left:622.58px;top:890.00px;font-size:37.7px;color:#0e0e0e;transform:scaleX(0.6387);text-shadow:-0.70px 0 0 #0e0e0e,0.70px 0 0 #0e0e0e,-0.35px 0 0 #0e0e0e,0.35px 0 0 #0e0e0e;-webkit-text-stroke:0.6px #0e0e0e">9</div>
<div class="g" style="left:639.40px;top:890.00px;font-size:37.7px;color:#0e0e0e;transform:scaleX(0.5906);text-shadow:-0.70px 0 0 #0e0e0e,0.70px 0 0 #0e0e0e,-0.35px 0 0 #0e0e0e,0.35px 0 0 #0e0e0e;-webkit-text-stroke:0.6px #0e0e0e">4</div>
<div class="g" style="left:661.86px;top:890.00px;font-size:37.7px;color:#0e0e0e;transform:scaleX(0.5204);text-shadow:-0.70px 0 0 #0e0e0e,0.70px 0 0 #0e0e0e,-0.35px 0 0 #0e0e0e,0.35px 0 0 #0e0e0e;-webkit-text-stroke:0.6px #0e0e0e">c</div>
<div class="g" style="left:673.98px;top:890.00px;font-size:37.7px;color:#0e0e0e;transform:scaleX(0.6933);text-shadow:-0.70px 0 0 #0e0e0e,0.70px 0 0 #0e0e0e,-0.35px 0 0 #0e0e0e,0.35px 0 0 #0e0e0e;-webkit-text-stroke:0.6px #0e0e0e">m</div>
<div class="r" style="left:770.70px;top:895.00px;width:5.80px;height:26.00px;background:#0e0e0e;clip-path:polygon(0px 0.3px,5.80px 0px,5.80px 26.00px,2.40px 26.00px,2.40px 4.05px,0px 2.85px)"></div>
<div class="g" style="left:780.05px;top:890.00px;font-size:37.7px;color:#0e0e0e;transform:scaleX(0.6298);text-shadow:-0.70px 0 0 #0e0e0e,0.70px 0 0 #0e0e0e,-0.35px 0 0 #0e0e0e,0.35px 0 0 #0e0e0e;-webkit-text-stroke:0.6px #0e0e0e">8</div>
<div class="g" style="left:795.77px;top:890.00px;font-size:37.7px;color:#0e0e0e;transform:scaleX(0.6467);text-shadow:-0.70px 0 0 #0e0e0e,0.70px 0 0 #0e0e0e,-0.35px 0 0 #0e0e0e,0.35px 0 0 #0e0e0e;-webkit-text-stroke:0.6px #0e0e0e">2</div>
<div class="g" style="left:818.45px;top:890.00px;font-size:37.7px;color:#0e0e0e;transform:scaleX(0.5204);text-shadow:-0.70px 0 0 #0e0e0e,0.70px 0 0 #0e0e0e,-0.35px 0 0 #0e0e0e,0.35px 0 0 #0e0e0e;-webkit-text-stroke:0.6px #0e0e0e">c</div>
<div class="g" style="left:830.19px;top:890.00px;font-size:37.7px;color:#0e0e0e;transform:scaleX(0.6933);text-shadow:-0.70px 0 0 #0e0e0e,0.70px 0 0 #0e0e0e,-0.35px 0 0 #0e0e0e,0.35px 0 0 #0e0e0e;-webkit-text-stroke:0.6px #0e0e0e">m</div>
<div class="g" style="left:125.00px;top:554.89px;font-size:46.2px;font-weight:700;color:#fff;transform:rotate(-90deg) scaleX(0.4670);text-shadow:-0.85px 0 0 #fff,0.85px 0 0 #fff,-0.42px 0 0 #fff,0.42px 0 0 #fff">C</div>
<div class="g" style="left:125.00px;top:539.32px;font-size:46.2px;font-weight:700;color:#fff;transform:rotate(-90deg) scaleX(0.5890);text-shadow:-0.85px 0 0 #fff,0.85px 0 0 #fff,-0.42px 0 0 #fff,0.42px 0 0 #fff">H</div>
<div class="g" style="left:125.00px;top:520.18px;font-size:46.2px;font-weight:700;color:#fff;transform:rotate(-90deg) scaleX(0.5888);text-shadow:-0.85px 0 0 #fff,0.85px 0 0 #fff,-0.42px 0 0 #fff,0.42px 0 0 #fff">A</div>
<div class="g" style="left:125.00px;top:499.27px;font-size:46.2px;font-weight:700;color:#fff;transform:rotate(-90deg) scaleX(0.4955);text-shadow:-0.85px 0 0 #fff,0.85px 0 0 #fff,-0.42px 0 0 #fff,0.42px 0 0 #fff">Q</div>
<div class="g" style="left:125.00px;top:479.48px;font-size:46.2px;font-weight:700;color:#fff;transform:rotate(-90deg) scaleX(0.5599);text-shadow:-0.85px 0 0 #fff,0.85px 0 0 #fff,-0.42px 0 0 #fff,0.42px 0 0 #fff">U</div>
<div class="g" style="left:125.00px;top:459.17px;font-size:46.2px;font-weight:700;color:#fff;transform:rotate(-90deg) scaleX(0.5214);text-shadow:-0.85px 0 0 #fff,0.85px 0 0 #fff,-0.42px 0 0 #fff,0.42px 0 0 #fff">E</div>
<div class="g" style="left:125.00px;top:441.63px;font-size:46.2px;font-weight:700;color:#fff;transform:rotate(-90deg) scaleX(0.5189);text-shadow:-0.85px 0 0 #fff,0.85px 0 0 #fff,-0.42px 0 0 #fff,0.42px 0 0 #fff">T</div>
<div class="g" style="left:125.00px;top:427.56px;font-size:46.2px;font-weight:700;color:#fff;transform:rotate(-90deg) scaleX(0.5322);text-shadow:-0.85px 0 0 #fff,0.85px 0 0 #fff,-0.42px 0 0 #fff,0.42px 0 0 #fff">A</div>
<div class="g" style="left:125.00px;top:401.10px;font-size:46.2px;font-weight:700;color:#fff;transform:rotate(-90deg) scaleX(0.5821);text-shadow:-0.85px 0 0 #fff,0.85px 0 0 #fff,-0.42px 0 0 #fff,0.42px 0 0 #fff">H</div>
<div class="g" style="left:125.00px;top:381.59px;font-size:46.2px;font-weight:700;color:#fff;transform:rotate(-90deg) scaleX(0.5621);text-shadow:-0.85px 0 0 #fff,0.85px 0 0 #fff,-0.42px 0 0 #fff,0.42px 0 0 #fff">O</div>
<div class="g" style="left:125.00px;top:359.86px;font-size:46.2px;font-weight:700;color:#fff;transform:rotate(-90deg) scaleX(0.6529);text-shadow:-0.85px 0 0 #fff,0.85px 0 0 #fff,-0.42px 0 0 #fff,0.42px 0 0 #fff">M</div>
<div class="g" style="left:125.00px;top:333.23px;font-size:46.2px;font-weight:700;color:#fff;transform:rotate(-90deg) scaleX(0.5489);text-shadow:-0.85px 0 0 #fff,0.85px 0 0 #fff,-0.42px 0 0 #fff,0.42px 0 0 #fff">B</div>
<div class="g" style="left:125.00px;top:313.81px;font-size:46.2px;font-weight:700;color:#fff;transform:rotate(-90deg) scaleX(0.5415);text-shadow:-0.85px 0 0 #fff,0.85px 0 0 #fff,-0.42px 0 0 #fff,0.42px 0 0 #fff">R</div>
<div class="g" style="left:125.00px;top:293.32px;font-size:46.2px;font-weight:700;color:#fff;transform:rotate(-90deg) scaleX(0.4996);text-shadow:-0.85px 0 0 #fff,0.85px 0 0 #fff,-0.42px 0 0 #fff,0.42px 0 0 #fff">E</div>
<div class="g" style="left:125.00px;top:910.05px;font-size:46.2px;font-weight:700;color:#fff;transform:rotate(-90deg) scaleX(0.4325);text-shadow:-0.85px 0 0 #fff,0.85px 0 0 #fff,-0.42px 0 0 #fff,0.42px 0 0 #fff">C</div>
<div class="g" style="left:125.00px;top:893.50px;font-size:46.2px;font-weight:700;color:#fff;transform:rotate(-90deg) scaleX(0.5821);text-shadow:-0.85px 0 0 #fff,0.85px 0 0 #fff,-0.42px 0 0 #fff,0.42px 0 0 #fff">H</div>
<div class="g" style="left:125.00px;top:873.17px;font-size:46.2px;font-weight:700;color:#fff;transform:rotate(-90deg) scaleX(0.5505);text-shadow:-0.85px 0 0 #fff,0.85px 0 0 #fff,-0.42px 0 0 #fff,0.42px 0 0 #fff">A</div>
<div class="g" style="left:125.00px;top:853.51px;font-size:46.2px;font-weight:700;color:#fff;transform:rotate(-90deg) scaleX(0.4911);text-shadow:-0.85px 0 0 #fff,0.85px 0 0 #fff,-0.42px 0 0 #fff,0.42px 0 0 #fff">Q</div>
<div class="g" style="left:125.00px;top:833.88px;font-size:46.2px;font-weight:700;color:#fff;transform:rotate(-90deg) scaleX(0.5599);text-shadow:-0.85px 0 0 #fff,0.85px 0 0 #fff,-0.42px 0 0 #fff,0.42px 0 0 #fff">U</div>
<div class="g" style="left:125.00px;top:812.97px;font-size:46.2px;font-weight:700;color:#fff;transform:rotate(-90deg) scaleX(0.5214);text-shadow:-0.85px 0 0 #fff,0.85px 0 0 #fff,-0.42px 0 0 #fff,0.42px 0 0 #fff">E</div>
<div class="g" style="left:125.00px;top:795.83px;font-size:46.2px;font-weight:700;color:#fff;transform:rotate(-90deg) scaleX(0.5189);text-shadow:-0.85px 0 0 #fff,0.85px 0 0 #fff,-0.42px 0 0 #fff,0.42px 0 0 #fff">T</div>
<div class="g" style="left:125.00px;top:782.37px;font-size:46.2px;font-weight:700;color:#fff;transform:rotate(-90deg) scaleX(0.5505);text-shadow:-0.85px 0 0 #fff,0.85px 0 0 #fff,-0.42px 0 0 #fff,0.42px 0 0 #fff">A</div>
<div class="g" style="left:125.00px;top:755.94px;font-size:46.2px;font-weight:700;color:#fff;transform:rotate(-90deg) scaleX(0.6882);text-shadow:-0.85px 0 0 #fff,0.85px 0 0 #fff,-0.42px 0 0 #fff,0.42px 0 0 #fff">M</div>
<div class="g" style="left:125.00px;top:728.50px;font-size:46.2px;font-weight:700;color:#fff;transform:rotate(-90deg) scaleX(0.5701);text-shadow:-0.85px 0 0 #fff,0.85px 0 0 #fff,-0.42px 0 0 #fff,0.42px 0 0 #fff">U</div>
<div class="g" style="left:125.00px;top:707.72px;font-size:46.2px;font-weight:700;color:#fff;transform:rotate(-90deg) scaleX(0.5098);text-shadow:-0.85px 0 0 #fff,0.85px 0 0 #fff,-0.42px 0 0 #fff,0.42px 0 0 #fff">J</div>
<div class="g" style="left:125.00px;top:693.51px;font-size:46.2px;font-weight:700;color:#fff;transform:rotate(-90deg) scaleX(0.5865);text-shadow:-0.85px 0 0 #fff,0.85px 0 0 #fff,-0.42px 0 0 #fff,0.42px 0 0 #fff">E</div>
<div class="g" style="left:125.00px;top:675.93px;font-size:46.2px;font-weight:700;color:#fff;transform:rotate(-90deg) scaleX(0.5028);text-shadow:-0.85px 0 0 #fff,0.85px 0 0 #fff,-0.42px 0 0 #fff,0.42px 0 0 #fff">R</div>
</body></html>
